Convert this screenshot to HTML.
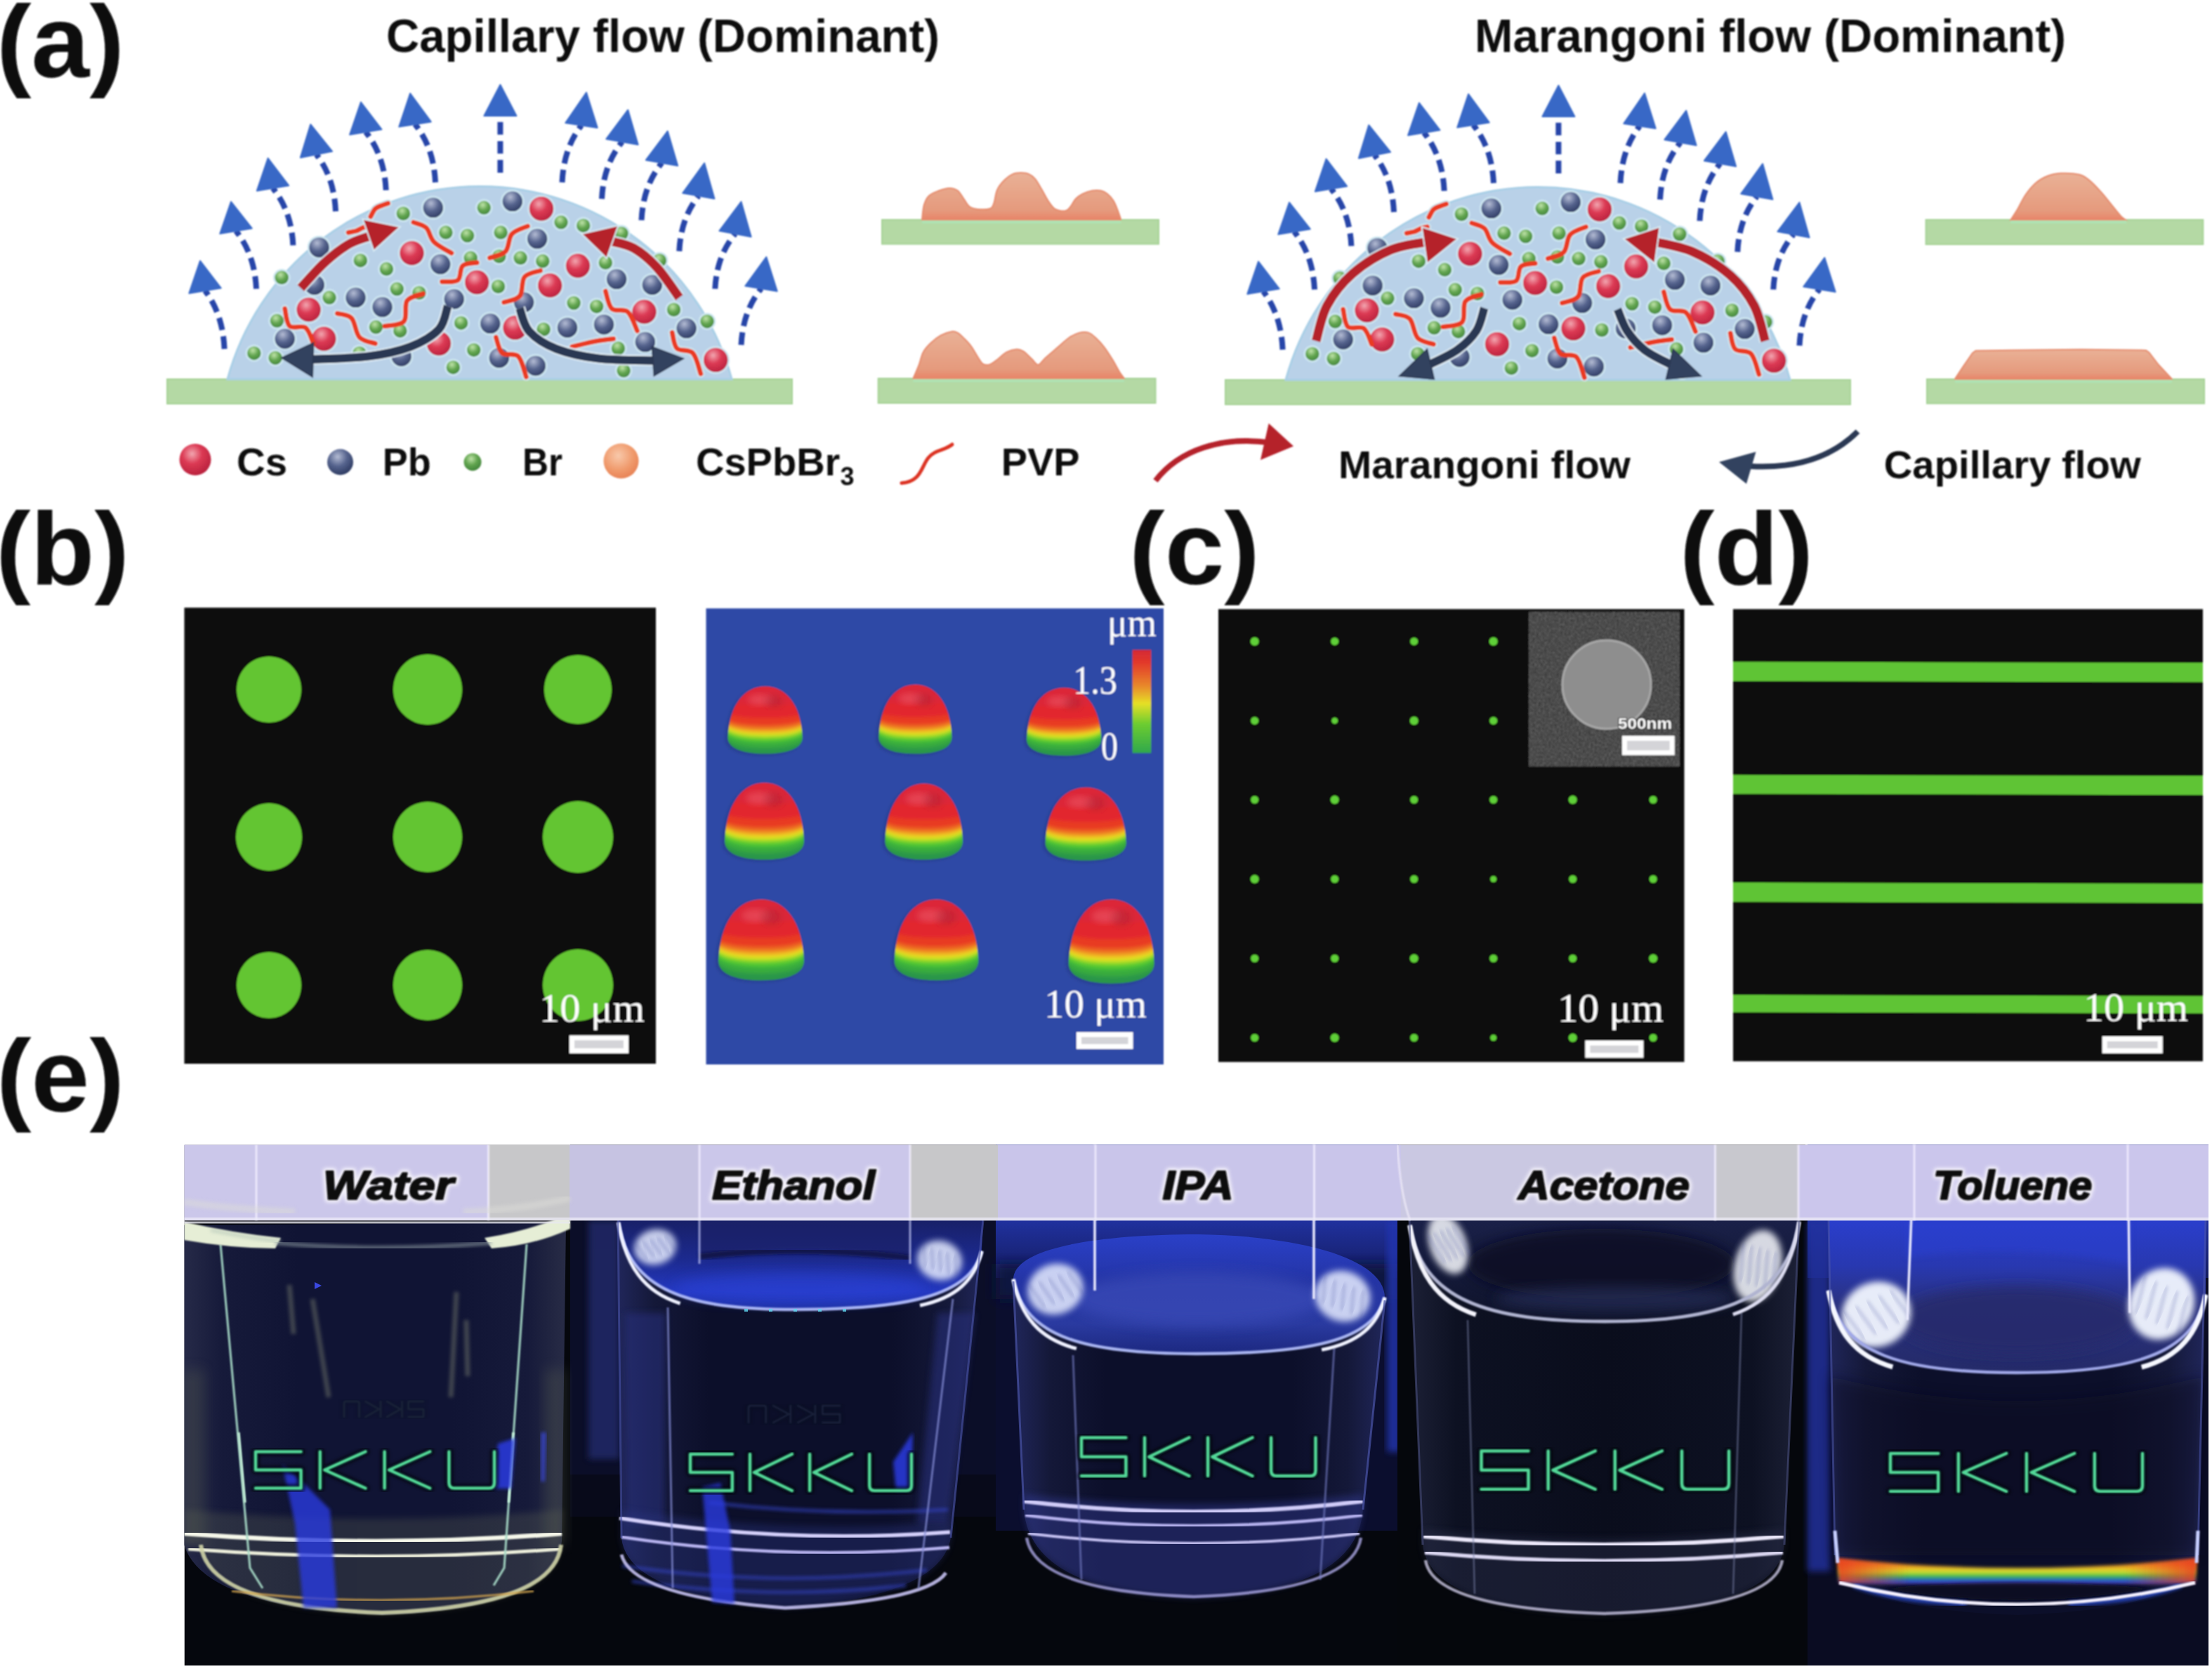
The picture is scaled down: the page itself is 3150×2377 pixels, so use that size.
<!DOCTYPE html>
<html><head><meta charset="utf-8"><title>Figure</title>
<style>html,body{margin:0;padding:0;background:#fff;}body{width:3150px;height:2377px;overflow:hidden;font-family:"Liberation Sans",sans-serif;}svg{display:block}</style>
</head><body>
<svg width="3150" height="2377" viewBox="0 0 3150 2377">
<rect width="3150" height="2377" fill="#fff"/>
<defs>
<radialGradient id="gCs" cx="40%" cy="32%" r="70%"><stop offset="0" stop-color="#f2a6b0"/><stop offset="0.45" stop-color="#dc3a54"/><stop offset="1" stop-color="#b8203c"/></radialGradient>
<radialGradient id="gPb" cx="40%" cy="30%" r="72%"><stop offset="0" stop-color="#b4bcd4"/><stop offset="0.5" stop-color="#56648e"/><stop offset="1" stop-color="#2c3960"/></radialGradient>
<radialGradient id="gBr" cx="42%" cy="32%" r="70%"><stop offset="0" stop-color="#bfe3a8"/><stop offset="0.5" stop-color="#62a550"/><stop offset="1" stop-color="#3f8238"/></radialGradient>
<radialGradient id="gOr" cx="42%" cy="35%" r="70%"><stop offset="0" stop-color="#f8c9ab"/><stop offset="0.6" stop-color="#f09a6c"/><stop offset="1" stop-color="#e67f52"/></radialGradient>
<linearGradient id="gDep" x1="0" y1="0" x2="0" y2="1"><stop offset="0" stop-color="#e9b196"/><stop offset="0.8" stop-color="#e59a7d"/><stop offset="1" stop-color="#e88468"/></linearGradient>
<linearGradient id="gDome" x1="0" y1="0" x2="0" y2="1"><stop offset="0" stop-color="#d8283c"/><stop offset="0.18" stop-color="#e62430"/><stop offset="0.45" stop-color="#ea3a22"/><stop offset="0.56" stop-color="#ee8a22"/><stop offset="0.63" stop-color="#e8e024"/><stop offset="0.71" stop-color="#78d82c"/><stop offset="0.85" stop-color="#3fb83a"/><stop offset="1" stop-color="#2f9a48"/></linearGradient>
<linearGradient id="gBar" x1="0" y1="0" x2="0" y2="1"><stop offset="0" stop-color="#d42a36"/><stop offset="0.12" stop-color="#e2382a"/><stop offset="0.35" stop-color="#e8882a"/><stop offset="0.52" stop-color="#e6e028"/><stop offset="0.72" stop-color="#6ccc30"/><stop offset="1" stop-color="#30a84c"/></linearGradient>
<filter id="bt" x="-5%" y="-10%" width="110%" height="120%"><feGaussianBlur stdDeviation="0.8"/></filter>
<filter id="b1" x="-5%" y="-5%" width="110%" height="110%"><feGaussianBlur stdDeviation="1.0"/></filter>
<filter id="b2" x="-10%" y="-10%" width="120%" height="120%"><feGaussianBlur stdDeviation="2.5"/></filter>
<filter id="b4" x="-20%" y="-20%" width="140%" height="140%"><feGaussianBlur stdDeviation="5"/></filter>
<filter id="b8" x="-30%" y="-30%" width="160%" height="160%"><feGaussianBlur stdDeviation="9"/></filter>
<filter id="b16" x="-40%" y="-40%" width="180%" height="180%"><feGaussianBlur stdDeviation="18"/></filter>
<filter id="b30" x="-50%" y="-50%" width="200%" height="200%"><feGaussianBlur stdDeviation="32"/></filter>
<filter id="noise" x="0" y="0" width="100%" height="100%"><feTurbulence type="fractalNoise" baseFrequency="0.35" numOctaves="2" seed="3"/><feColorMatrix type="matrix" values="0 0 0 0 0.5  0 0 0 0 0.5  0 0 0 0 0.5  0.9 0 0 0 -0.15"/></filter>
</defs>
<text x="-5.0" y="110.0" textLength="182.0" lengthAdjust="spacingAndGlyphs" style="font-family:'Liberation Sans',sans-serif;font-weight:bold;font-size:147px;fill:#0a0a0a" filter="url(#bt)">(a)</text>
<text x="-6.0" y="832.0" textLength="190.0" lengthAdjust="spacingAndGlyphs" style="font-family:'Liberation Sans',sans-serif;font-weight:bold;font-size:147px;fill:#0a0a0a" filter="url(#bt)">(b)</text>
<text x="1608.0" y="832.0" textLength="186.0" lengthAdjust="spacingAndGlyphs" style="font-family:'Liberation Sans',sans-serif;font-weight:bold;font-size:147px;fill:#0a0a0a" filter="url(#bt)">(c)</text>
<text x="2392.0" y="832.0" textLength="190.0" lengthAdjust="spacingAndGlyphs" style="font-family:'Liberation Sans',sans-serif;font-weight:bold;font-size:147px;fill:#0a0a0a" filter="url(#bt)">(d)</text>
<text x="-5.0" y="1583.0" textLength="182.0" lengthAdjust="spacingAndGlyphs" style="font-family:'Liberation Sans',sans-serif;font-weight:bold;font-size:147px;fill:#0a0a0a" filter="url(#bt)">(e)</text>
<text x="550.0" y="74.0" textLength="788.0" lengthAdjust="spacingAndGlyphs" style="font-family:'Liberation Sans',sans-serif;font-weight:bold;fill:#111;font-size:66px;" filter="url(#bt)">Capillary flow (Dominant)</text>
<text x="2100.0" y="74.0" textLength="842.0" lengthAdjust="spacingAndGlyphs" style="font-family:'Liberation Sans',sans-serif;font-weight:bold;fill:#111;font-size:66px;" filter="url(#bt)">Marangoni flow (Dominant)</text>
<g filter="url(#b1)">
<g transform="translate(0.0,0.0)">
<rect x="238" y="540" width="890" height="35" fill="#b4d9a4" stroke="#a6d296" stroke-width="2"/>
<path d="M324,540 A372,372 0 0 1 1042,540 Z" fill="#b9d1e8" stroke="#a9cfe6" stroke-width="3"/>
<path d="M319.6,497.0 Q317.4,447.2 292.0,414.0" fill="none" stroke="#2545a8" stroke-width="8" stroke-dasharray="18 9"/>
<path d="M285.0,371.5 L314.7,410.3 L269.3,417.7 Z" fill="#3968c6" stroke="#3968c6" stroke-width="2" stroke-linejoin="round"/>
<path d="M365.0,411.4 Q362.7,362.0 336.0,329.0" fill="none" stroke="#2545a8" stroke-width="8" stroke-dasharray="18 9"/>
<path d="M329.0,287.4 L358.7,325.2 L313.3,332.8 Z" fill="#3968c6" stroke="#3968c6" stroke-width="2" stroke-linejoin="round"/>
<path d="M417.4,349.4 Q415.1,300.6 388.5,268.0" fill="none" stroke="#2545a8" stroke-width="8" stroke-dasharray="18 9"/>
<path d="M381.6,225.4 L411.2,264.3 L365.8,271.7 Z" fill="#3968c6" stroke="#3968c6" stroke-width="2" stroke-linejoin="round"/>
<path d="M478.0,301.0 Q475.8,252.4 450.5,220.0" fill="none" stroke="#2545a8" stroke-width="8" stroke-dasharray="18 9"/>
<path d="M442.2,177.2 L473.1,215.6 L427.9,224.4 Z" fill="#3968c6" stroke="#3968c6" stroke-width="2" stroke-linejoin="round"/>
<path d="M549.7,270.9 Q547.4,221.2 520.8,188.0" fill="none" stroke="#2545a8" stroke-width="8" stroke-dasharray="18 9"/>
<path d="M513.9,145.5 L543.5,184.3 L498.1,191.7 Z" fill="#3968c6" stroke="#3968c6" stroke-width="2" stroke-linejoin="round"/>
<path d="M620.0,259.8 Q617.7,210.1 591.0,177.0" fill="none" stroke="#2545a8" stroke-width="8" stroke-dasharray="18 9"/>
<path d="M584.1,133.0 L613.7,173.4 L568.3,180.6 Z" fill="#3968c6" stroke="#3968c6" stroke-width="2" stroke-linejoin="round"/>
<path d="M712.4,246.0 Q712.4,197.4 712.4,165.0" fill="none" stroke="#2545a8" stroke-width="8" stroke-dasharray="18 9"/>
<path d="M712.4,120.7 L735.4,165.0 L689.4,165.0 Z" fill="#3968c6" stroke="#3968c6" stroke-width="2" stroke-linejoin="round"/>
<path d="M800.5,259.8 Q802.7,211.0 828.0,178.5" fill="none" stroke="#2545a8" stroke-width="8" stroke-dasharray="18 9"/>
<path d="M835.0,131.7 L850.7,181.9 L805.3,175.1 Z" fill="#3968c6" stroke="#3968c6" stroke-width="2" stroke-linejoin="round"/>
<path d="M857.0,283.3 Q859.3,234.5 886.0,202.0" fill="none" stroke="#2545a8" stroke-width="8" stroke-dasharray="18 9"/>
<path d="M894.2,156.5 L908.6,206.1 L863.4,197.9 Z" fill="#3968c6" stroke="#3968c6" stroke-width="2" stroke-linejoin="round"/>
<path d="M913.5,313.6 Q915.8,264.6 942.5,232.0" fill="none" stroke="#2545a8" stroke-width="8" stroke-dasharray="18 9"/>
<path d="M950.7,186.8 L965.1,236.1 L919.9,227.9 Z" fill="#3968c6" stroke="#3968c6" stroke-width="2" stroke-linejoin="round"/>
<path d="M967.3,357.7 Q969.5,310.5 994.8,279.0" fill="none" stroke="#2545a8" stroke-width="8" stroke-dasharray="18 9"/>
<path d="M1003.1,232.3 L1017.4,283.0 L972.2,275.0 Z" fill="#3968c6" stroke="#3968c6" stroke-width="2" stroke-linejoin="round"/>
<path d="M1018.3,411.4 Q1020.6,364.4 1047.0,333.0" fill="none" stroke="#2545a8" stroke-width="8" stroke-dasharray="18 9"/>
<path d="M1055.5,287.4 L1069.6,337.2 L1024.4,328.8 Z" fill="#3968c6" stroke="#3968c6" stroke-width="2" stroke-linejoin="round"/>
<path d="M1055.5,491.3 Q1057.8,443.1 1084.0,411.0" fill="none" stroke="#2545a8" stroke-width="8" stroke-dasharray="18 9"/>
<path d="M1091.3,366.0 L1106.7,414.7 L1061.3,407.3 Z" fill="#3968c6" stroke="#3968c6" stroke-width="2" stroke-linejoin="round"/>
<path d="M527.8,308.5 C528.9,306.6 531.9,299.8 534.5,297.2 C537.2,294.6 540.6,294.0 543.6,292.7 C546.6,291.4 551.1,290.0 552.6,289.5" fill="none" stroke="#cfeaf2" stroke-width="11" stroke-linecap="round"/>
<path d="M588.8,316.6 C591.8,317.9 602.0,319.7 606.9,324.3 C611.8,329.0 612.1,338.6 618.2,344.7 C624.2,350.7 638.9,357.9 643.0,360.5" fill="none" stroke="#cfeaf2" stroke-width="11" stroke-linecap="round"/>
<path d="M697.3,367.3 C701.1,365.8 714.6,363.9 719.9,358.2 C725.2,352.6 723.7,339.4 728.9,333.4 C734.2,327.3 747.8,323.9 751.5,322.1" fill="none" stroke="#cfeaf2" stroke-width="11" stroke-linecap="round"/>
<path d="M629.5,401.2 C633.2,400.8 647.2,402.7 652.1,398.9 C657.0,395.1 654.3,382.7 658.9,378.6 C663.4,374.4 675.8,374.8 679.2,374.1" fill="none" stroke="#cfeaf2" stroke-width="11" stroke-linecap="round"/>
<path d="M717.6,430.6 C721.4,429.1 735.3,427.5 740.2,421.5 C745.1,415.5 742.1,400.4 747.0,394.4 C751.9,388.4 765.9,386.9 769.6,385.4" fill="none" stroke="#cfeaf2" stroke-width="11" stroke-linecap="round"/>
<path d="M548.1,464.5 C552.6,463.3 570.0,463.7 575.2,457.7 C580.5,451.7 575.2,434.9 579.7,428.3 C584.3,421.7 598.6,420.0 602.4,418.4" fill="none" stroke="#cfeaf2" stroke-width="11" stroke-linecap="round"/>
<path d="M405.7,439.6 C406.8,443.7 407.6,459.9 412.5,464.5 C417.4,469.0 429.4,462.6 435.1,466.7 C440.7,470.9 444.5,485.6 446.4,489.3" fill="none" stroke="#cfeaf2" stroke-width="11" stroke-linecap="round"/>
<path d="M480.3,446.4 C483.7,447.5 495.4,447.5 500.6,453.2 C505.9,458.8 506.3,474.3 511.9,480.3 C517.6,486.3 530.8,487.8 534.5,489.3" fill="none" stroke="#cfeaf2" stroke-width="11" stroke-linecap="round"/>
<path d="M706.3,480.3 C707.8,484.1 710.1,498.4 715.4,502.9 C720.6,507.4 732.3,501.8 738.0,507.4 C743.6,513.1 747.4,531.9 749.3,536.8" fill="none" stroke="#cfeaf2" stroke-width="11" stroke-linecap="round"/>
<path d="M862.3,414.7 C863.8,418.9 866.1,434.7 871.3,439.6 C876.6,444.5 887.9,438.8 893.9,444.1 C900.0,449.4 905.2,466.7 907.5,471.2" fill="none" stroke="#cfeaf2" stroke-width="11" stroke-linecap="round"/>
<path d="M814.8,493.9 C817.8,493.1 826.1,490.8 832.9,489.3 C839.7,487.8 848.7,485.9 855.5,484.8 C862.3,483.7 870.6,482.9 873.6,482.5" fill="none" stroke="#cfeaf2" stroke-width="11" stroke-linecap="round"/>
<path d="M957.2,473.5 C958.4,477.3 959.1,491.2 964.0,496.1 C968.9,501.0 981.0,496.9 986.6,502.9 C992.3,508.9 996.0,527.4 997.9,532.3" fill="none" stroke="#cfeaf2" stroke-width="11" stroke-linecap="round"/>
<path d="M496.1,331.1 C498.0,330.7 504.0,330.0 507.4,328.8 C510.8,327.7 513.4,325.5 516.5,324.3 C519.5,323.2 524.0,322.4 525.5,322.1" fill="none" stroke="#cfeaf2" stroke-width="11" stroke-linecap="round"/>
<circle cx="574.3" cy="304.0" r="11.0" fill="url(#gBr)" stroke="#cfe8f2" stroke-width="2.5"/>
<circle cx="689.2" cy="295.8" r="11.0" fill="url(#gBr)" stroke="#cfe8f2" stroke-width="2.5"/>
<circle cx="634.9" cy="331.1" r="11.0" fill="url(#gBr)" stroke="#cfe8f2" stroke-width="2.5"/>
<circle cx="665.6" cy="335.6" r="11.0" fill="url(#gBr)" stroke="#cfe8f2" stroke-width="2.5"/>
<circle cx="713.1" cy="331.1" r="11.0" fill="url(#gBr)" stroke="#cfe8f2" stroke-width="2.5"/>
<circle cx="799.0" cy="316.6" r="11.0" fill="url(#gBr)" stroke="#cfe8f2" stroke-width="2.5"/>
<circle cx="830.7" cy="321.2" r="11.0" fill="url(#gBr)" stroke="#cfe8f2" stroke-width="2.5"/>
<circle cx="884.9" cy="332.5" r="11.0" fill="url(#gBr)" stroke="#cfe8f2" stroke-width="2.5"/>
<circle cx="513.3" cy="370.9" r="11.0" fill="url(#gBr)" stroke="#cfe8f2" stroke-width="2.5"/>
<circle cx="550.4" cy="383.1" r="11.0" fill="url(#gBr)" stroke="#cfe8f2" stroke-width="2.5"/>
<circle cx="670.2" cy="367.3" r="11.0" fill="url(#gBr)" stroke="#cfe8f2" stroke-width="2.5"/>
<circle cx="710.8" cy="365.0" r="11.0" fill="url(#gBr)" stroke="#cfe8f2" stroke-width="2.5"/>
<circle cx="741.1" cy="367.3" r="11.0" fill="url(#gBr)" stroke="#cfe8f2" stroke-width="2.5"/>
<circle cx="772.8" cy="371.8" r="11.0" fill="url(#gBr)" stroke="#cfe8f2" stroke-width="2.5"/>
<circle cx="862.3" cy="374.1" r="11.0" fill="url(#gBr)" stroke="#cfe8f2" stroke-width="2.5"/>
<circle cx="939.2" cy="370.9" r="11.0" fill="url(#gBr)" stroke="#cfe8f2" stroke-width="2.5"/>
<circle cx="401.2" cy="395.3" r="11.0" fill="url(#gBr)" stroke="#cfe8f2" stroke-width="2.5"/>
<circle cx="565.3" cy="411.6" r="11.0" fill="url(#gBr)" stroke="#cfe8f2" stroke-width="2.5"/>
<circle cx="596.9" cy="417.0" r="11.0" fill="url(#gBr)" stroke="#cfe8f2" stroke-width="2.5"/>
<circle cx="469.0" cy="423.8" r="11.0" fill="url(#gBr)" stroke="#cfe8f2" stroke-width="2.5"/>
<circle cx="709.5" cy="408.0" r="11.0" fill="url(#gBr)" stroke="#cfe8f2" stroke-width="2.5"/>
<circle cx="817.1" cy="431.5" r="11.0" fill="url(#gBr)" stroke="#cfe8f2" stroke-width="2.5"/>
<circle cx="849.6" cy="436.4" r="11.0" fill="url(#gBr)" stroke="#cfe8f2" stroke-width="2.5"/>
<circle cx="959.5" cy="441.0" r="11.0" fill="url(#gBr)" stroke="#cfe8f2" stroke-width="2.5"/>
<circle cx="394.4" cy="456.8" r="11.0" fill="url(#gBr)" stroke="#cfe8f2" stroke-width="2.5"/>
<circle cx="535.4" cy="465.8" r="11.0" fill="url(#gBr)" stroke="#cfe8f2" stroke-width="2.5"/>
<circle cx="569.8" cy="471.2" r="11.0" fill="url(#gBr)" stroke="#cfe8f2" stroke-width="2.5"/>
<circle cx="656.6" cy="459.9" r="11.0" fill="url(#gBr)" stroke="#cfe8f2" stroke-width="2.5"/>
<circle cx="1007.0" cy="457.7" r="11.0" fill="url(#gBr)" stroke="#cfe8f2" stroke-width="2.5"/>
<circle cx="361.8" cy="502.9" r="11.0" fill="url(#gBr)" stroke="#cfe8f2" stroke-width="2.5"/>
<circle cx="392.1" cy="509.7" r="11.0" fill="url(#gBr)" stroke="#cfe8f2" stroke-width="2.5"/>
<circle cx="674.7" cy="498.4" r="11.0" fill="url(#gBr)" stroke="#cfe8f2" stroke-width="2.5"/>
<circle cx="645.3" cy="523.2" r="11.0" fill="url(#gBr)" stroke="#cfe8f2" stroke-width="2.5"/>
<circle cx="880.4" cy="496.1" r="11.0" fill="url(#gBr)" stroke="#cfe8f2" stroke-width="2.5"/>
<circle cx="888.1" cy="527.8" r="11.0" fill="url(#gBr)" stroke="#cfe8f2" stroke-width="2.5"/>
<circle cx="511.9" cy="502.9" r="11.0" fill="url(#gBr)" stroke="#cfe8f2" stroke-width="2.5"/>
<circle cx="774.1" cy="469.0" r="11.0" fill="url(#gBr)" stroke="#cfe8f2" stroke-width="2.5"/>
<circle cx="616.8" cy="295.8" r="15.5" fill="url(#gPb)" stroke="#cfe8f2" stroke-width="2.5"/>
<circle cx="729.8" cy="286.8" r="15.5" fill="url(#gPb)" stroke="#cfe8f2" stroke-width="2.5"/>
<circle cx="765.1" cy="340.1" r="15.5" fill="url(#gPb)" stroke="#cfe8f2" stroke-width="2.5"/>
<circle cx="454.5" cy="352.4" r="15.5" fill="url(#gPb)" stroke="#cfe8f2" stroke-width="2.5"/>
<circle cx="627.2" cy="376.3" r="15.5" fill="url(#gPb)" stroke="#cfe8f2" stroke-width="2.5"/>
<circle cx="447.7" cy="405.7" r="15.5" fill="url(#gPb)" stroke="#cfe8f2" stroke-width="2.5"/>
<circle cx="506.5" cy="423.8" r="15.5" fill="url(#gPb)" stroke="#cfe8f2" stroke-width="2.5"/>
<circle cx="544.5" cy="437.3" r="15.5" fill="url(#gPb)" stroke="#cfe8f2" stroke-width="2.5"/>
<circle cx="646.7" cy="426.0" r="15.5" fill="url(#gPb)" stroke="#cfe8f2" stroke-width="2.5"/>
<circle cx="746.1" cy="430.6" r="15.5" fill="url(#gPb)" stroke="#cfe8f2" stroke-width="2.5"/>
<circle cx="878.1" cy="397.6" r="15.5" fill="url(#gPb)" stroke="#cfe8f2" stroke-width="2.5"/>
<circle cx="928.8" cy="405.7" r="15.5" fill="url(#gPb)" stroke="#cfe8f2" stroke-width="2.5"/>
<circle cx="698.2" cy="460.8" r="15.5" fill="url(#gPb)" stroke="#cfe8f2" stroke-width="2.5"/>
<circle cx="808.0" cy="466.7" r="15.5" fill="url(#gPb)" stroke="#cfe8f2" stroke-width="2.5"/>
<circle cx="860.0" cy="462.2" r="15.5" fill="url(#gPb)" stroke="#cfe8f2" stroke-width="2.5"/>
<circle cx="405.7" cy="482.5" r="15.5" fill="url(#gPb)" stroke="#cfe8f2" stroke-width="2.5"/>
<circle cx="571.6" cy="507.4" r="15.5" fill="url(#gPb)" stroke="#cfe8f2" stroke-width="2.5"/>
<circle cx="710.8" cy="509.7" r="15.5" fill="url(#gPb)" stroke="#cfe8f2" stroke-width="2.5"/>
<circle cx="762.8" cy="521.0" r="15.5" fill="url(#gPb)" stroke="#cfe8f2" stroke-width="2.5"/>
<circle cx="918.8" cy="487.1" r="15.5" fill="url(#gPb)" stroke="#cfe8f2" stroke-width="2.5"/>
<circle cx="977.6" cy="467.6" r="15.5" fill="url(#gPb)" stroke="#cfe8f2" stroke-width="2.5"/>
<circle cx="771.0" cy="297.2" r="18.5" fill="url(#gCs)" stroke="#cfe8f2" stroke-width="2.5"/>
<circle cx="586.5" cy="360.5" r="18.5" fill="url(#gCs)" stroke="#cfe8f2" stroke-width="2.5"/>
<circle cx="679.2" cy="402.1" r="18.5" fill="url(#gCs)" stroke="#cfe8f2" stroke-width="2.5"/>
<circle cx="823.0" cy="378.6" r="18.5" fill="url(#gCs)" stroke="#cfe8f2" stroke-width="2.5"/>
<circle cx="783.2" cy="406.6" r="18.5" fill="url(#gCs)" stroke="#cfe8f2" stroke-width="2.5"/>
<circle cx="439.6" cy="441.0" r="18.5" fill="url(#gCs)" stroke="#cfe8f2" stroke-width="2.5"/>
<circle cx="461.3" cy="482.5" r="18.5" fill="url(#gCs)" stroke="#cfe8f2" stroke-width="2.5"/>
<circle cx="625.0" cy="489.3" r="18.5" fill="url(#gCs)" stroke="#cfe8f2" stroke-width="2.5"/>
<circle cx="733.5" cy="466.7" r="18.5" fill="url(#gCs)" stroke="#cfe8f2" stroke-width="2.5"/>
<circle cx="917.5" cy="444.1" r="18.5" fill="url(#gCs)" stroke="#cfe8f2" stroke-width="2.5"/>
<circle cx="1019.2" cy="512.8" r="18.5" fill="url(#gCs)" stroke="#cfe8f2" stroke-width="2.5"/>
<path d="M527.8,308.5 C528.9,306.6 531.9,299.8 534.5,297.2 C537.2,294.6 540.6,294.0 543.6,292.7 C546.6,291.4 551.1,290.0 552.6,289.5" fill="none" stroke="#ea3a20" stroke-width="7" stroke-linecap="round"/>
<path d="M588.8,316.6 C591.8,317.9 602.0,319.7 606.9,324.3 C611.8,329.0 612.1,338.6 618.2,344.7 C624.2,350.7 638.9,357.9 643.0,360.5" fill="none" stroke="#ea3a20" stroke-width="7" stroke-linecap="round"/>
<path d="M697.3,367.3 C701.1,365.8 714.6,363.9 719.9,358.2 C725.2,352.6 723.7,339.4 728.9,333.4 C734.2,327.3 747.8,323.9 751.5,322.1" fill="none" stroke="#ea3a20" stroke-width="7" stroke-linecap="round"/>
<path d="M629.5,401.2 C633.2,400.8 647.2,402.7 652.1,398.9 C657.0,395.1 654.3,382.7 658.9,378.6 C663.4,374.4 675.8,374.8 679.2,374.1" fill="none" stroke="#ea3a20" stroke-width="7" stroke-linecap="round"/>
<path d="M717.6,430.6 C721.4,429.1 735.3,427.5 740.2,421.5 C745.1,415.5 742.1,400.4 747.0,394.4 C751.9,388.4 765.9,386.9 769.6,385.4" fill="none" stroke="#ea3a20" stroke-width="7" stroke-linecap="round"/>
<path d="M548.1,464.5 C552.6,463.3 570.0,463.7 575.2,457.7 C580.5,451.7 575.2,434.9 579.7,428.3 C584.3,421.7 598.6,420.0 602.4,418.4" fill="none" stroke="#ea3a20" stroke-width="7" stroke-linecap="round"/>
<path d="M405.7,439.6 C406.8,443.7 407.6,459.9 412.5,464.5 C417.4,469.0 429.4,462.6 435.1,466.7 C440.7,470.9 444.5,485.6 446.4,489.3" fill="none" stroke="#ea3a20" stroke-width="7" stroke-linecap="round"/>
<path d="M480.3,446.4 C483.7,447.5 495.4,447.5 500.6,453.2 C505.9,458.8 506.3,474.3 511.9,480.3 C517.6,486.3 530.8,487.8 534.5,489.3" fill="none" stroke="#ea3a20" stroke-width="7" stroke-linecap="round"/>
<path d="M706.3,480.3 C707.8,484.1 710.1,498.4 715.4,502.9 C720.6,507.4 732.3,501.8 738.0,507.4 C743.6,513.1 747.4,531.9 749.3,536.8" fill="none" stroke="#ea3a20" stroke-width="7" stroke-linecap="round"/>
<path d="M862.3,414.7 C863.8,418.9 866.1,434.7 871.3,439.6 C876.6,444.5 887.9,438.8 893.9,444.1 C900.0,449.4 905.2,466.7 907.5,471.2" fill="none" stroke="#ea3a20" stroke-width="7" stroke-linecap="round"/>
<path d="M814.8,493.9 C817.8,493.1 826.1,490.8 832.9,489.3 C839.7,487.8 848.7,485.9 855.5,484.8 C862.3,483.7 870.6,482.9 873.6,482.5" fill="none" stroke="#ea3a20" stroke-width="7" stroke-linecap="round"/>
<path d="M957.2,473.5 C958.4,477.3 959.1,491.2 964.0,496.1 C968.9,501.0 981.0,496.9 986.6,502.9 C992.3,508.9 996.0,527.4 997.9,532.3" fill="none" stroke="#ea3a20" stroke-width="7" stroke-linecap="round"/>
<path d="M496.1,331.1 C498.0,330.7 504.0,330.0 507.4,328.8 C510.8,327.7 513.4,325.5 516.5,324.3 C519.5,323.2 524.0,322.4 525.5,322.1" fill="none" stroke="#ea3a20" stroke-width="7" stroke-linecap="round"/>
<path d="M428.3,410.2 C434.0,404.2 450.5,384.6 462.2,374.1 C473.9,363.5 485.9,353.7 498.4,346.9 C510.8,340.1 530.4,335.6 536.8,333.4" fill="none" stroke="#d8ecf4" stroke-width="17"/>
<path d="M428.3,410.2 C434.0,404.2 450.5,384.6 462.2,374.1 C473.9,363.5 485.9,353.7 498.4,346.9 C510.8,340.1 530.4,335.6 536.8,333.4" fill="none" stroke="#b5202c" stroke-width="13"/>
<path d="M516.5,312.1 L569.8,323.0 L532.3,357.3 Z" fill="#b5202c" stroke="#d8ecf4" stroke-width="2"/>
<path d="M967.3,423.8 C962.0,416.7 946.4,392.7 935.6,381.0 C924.8,369.3 913.8,359.8 902.5,353.5 C891.2,347.2 873.8,344.8 868.0,343.0" fill="none" stroke="#d8ecf4" stroke-width="17"/>
<path d="M967.3,423.8 C962.0,416.7 946.4,392.7 935.6,381.0 C924.8,369.3 913.8,359.8 902.5,353.5 C891.2,347.2 873.8,344.8 868.0,343.0" fill="none" stroke="#b5202c" stroke-width="13"/>
<path d="M828,333 L880.5,321 L864,368 Z" fill="#b5202c" stroke="#d8ecf4" stroke-width="2"/>
<path d="M740.0,439.0 C742.3,444.5 745.0,462.4 753.7,472.0 C762.4,481.6 775.8,490.4 792.3,496.8 C808.8,503.2 829.7,507.8 853.0,510.6 C876.3,513.4 918.8,512.9 932.0,513.4" fill="none" stroke="#e4f0f8" stroke-width="16"/>
<path d="M740.0,439.0 C742.3,444.5 745.0,462.4 753.7,472.0 C762.4,481.6 775.8,490.4 792.3,496.8 C808.8,503.2 829.7,507.8 853.0,510.6 C876.3,513.4 918.8,512.9 932.0,513.4" fill="none" stroke="#2b3853" stroke-width="12"/>
<path d="M973,510.6 L928.7,494 L931.5,535 Z" fill="#33425f" stroke="#2b3853" stroke-width="2"/>
<path d="M637.6,436.0 C635.5,441.5 633.8,459.3 625.0,469.0 C616.1,478.6 600.8,487.4 584.3,493.9 C567.7,500.3 548.9,504.4 525.5,507.4 C502.1,510.4 457.7,511.2 444.1,511.9" fill="none" stroke="#e4f0f8" stroke-width="16"/>
<path d="M637.6,436.0 C635.5,441.5 633.8,459.3 625.0,469.0 C616.1,478.6 600.8,487.4 584.3,493.9 C567.7,500.3 548.9,504.4 525.5,507.4 C502.1,510.4 457.7,511.2 444.1,511.9" fill="none" stroke="#2b3853" stroke-width="12"/>
<path d="M401.2,509.7 L446.4,488.4 L445.0,536.8 Z" fill="#33425f" stroke="#2b3853" stroke-width="2"/>
</g>
<g transform="translate(1507.0,1.0)">
<rect x="238" y="540" width="890" height="35" fill="#b4d9a4" stroke="#a6d296" stroke-width="2"/>
<path d="M324,540 A372,372 0 0 1 1042,540 Z" fill="#b9d1e8" stroke="#a9cfe6" stroke-width="3"/>
<path d="M319.6,497.0 Q317.4,447.2 292.0,414.0" fill="none" stroke="#2545a8" stroke-width="8" stroke-dasharray="18 9"/>
<path d="M285.0,371.5 L314.7,410.3 L269.3,417.7 Z" fill="#3968c6" stroke="#3968c6" stroke-width="2" stroke-linejoin="round"/>
<path d="M365.0,411.4 Q362.7,362.0 336.0,329.0" fill="none" stroke="#2545a8" stroke-width="8" stroke-dasharray="18 9"/>
<path d="M329.0,287.4 L358.7,325.2 L313.3,332.8 Z" fill="#3968c6" stroke="#3968c6" stroke-width="2" stroke-linejoin="round"/>
<path d="M417.4,349.4 Q415.1,300.6 388.5,268.0" fill="none" stroke="#2545a8" stroke-width="8" stroke-dasharray="18 9"/>
<path d="M381.6,225.4 L411.2,264.3 L365.8,271.7 Z" fill="#3968c6" stroke="#3968c6" stroke-width="2" stroke-linejoin="round"/>
<path d="M478.0,301.0 Q475.8,252.4 450.5,220.0" fill="none" stroke="#2545a8" stroke-width="8" stroke-dasharray="18 9"/>
<path d="M442.2,177.2 L473.1,215.6 L427.9,224.4 Z" fill="#3968c6" stroke="#3968c6" stroke-width="2" stroke-linejoin="round"/>
<path d="M549.7,270.9 Q547.4,221.2 520.8,188.0" fill="none" stroke="#2545a8" stroke-width="8" stroke-dasharray="18 9"/>
<path d="M513.9,145.5 L543.5,184.3 L498.1,191.7 Z" fill="#3968c6" stroke="#3968c6" stroke-width="2" stroke-linejoin="round"/>
<path d="M620.0,259.8 Q617.7,210.1 591.0,177.0" fill="none" stroke="#2545a8" stroke-width="8" stroke-dasharray="18 9"/>
<path d="M584.1,133.0 L613.7,173.4 L568.3,180.6 Z" fill="#3968c6" stroke="#3968c6" stroke-width="2" stroke-linejoin="round"/>
<path d="M712.4,246.0 Q712.4,197.4 712.4,165.0" fill="none" stroke="#2545a8" stroke-width="8" stroke-dasharray="18 9"/>
<path d="M712.4,120.7 L735.4,165.0 L689.4,165.0 Z" fill="#3968c6" stroke="#3968c6" stroke-width="2" stroke-linejoin="round"/>
<path d="M800.5,259.8 Q802.7,211.0 828.0,178.5" fill="none" stroke="#2545a8" stroke-width="8" stroke-dasharray="18 9"/>
<path d="M835.0,131.7 L850.7,181.9 L805.3,175.1 Z" fill="#3968c6" stroke="#3968c6" stroke-width="2" stroke-linejoin="round"/>
<path d="M857.0,283.3 Q859.3,234.5 886.0,202.0" fill="none" stroke="#2545a8" stroke-width="8" stroke-dasharray="18 9"/>
<path d="M894.2,156.5 L908.6,206.1 L863.4,197.9 Z" fill="#3968c6" stroke="#3968c6" stroke-width="2" stroke-linejoin="round"/>
<path d="M913.5,313.6 Q915.8,264.6 942.5,232.0" fill="none" stroke="#2545a8" stroke-width="8" stroke-dasharray="18 9"/>
<path d="M950.7,186.8 L965.1,236.1 L919.9,227.9 Z" fill="#3968c6" stroke="#3968c6" stroke-width="2" stroke-linejoin="round"/>
<path d="M967.3,357.7 Q969.5,310.5 994.8,279.0" fill="none" stroke="#2545a8" stroke-width="8" stroke-dasharray="18 9"/>
<path d="M1003.1,232.3 L1017.4,283.0 L972.2,275.0 Z" fill="#3968c6" stroke="#3968c6" stroke-width="2" stroke-linejoin="round"/>
<path d="M1018.3,411.4 Q1020.6,364.4 1047.0,333.0" fill="none" stroke="#2545a8" stroke-width="8" stroke-dasharray="18 9"/>
<path d="M1055.5,287.4 L1069.6,337.2 L1024.4,328.8 Z" fill="#3968c6" stroke="#3968c6" stroke-width="2" stroke-linejoin="round"/>
<path d="M1055.5,491.3 Q1057.8,443.1 1084.0,411.0" fill="none" stroke="#2545a8" stroke-width="8" stroke-dasharray="18 9"/>
<path d="M1091.3,366.0 L1106.7,414.7 L1061.3,407.3 Z" fill="#3968c6" stroke="#3968c6" stroke-width="2" stroke-linejoin="round"/>
<path d="M527.8,308.5 C528.9,306.6 531.9,299.8 534.5,297.2 C537.2,294.6 540.6,294.0 543.6,292.7 C546.6,291.4 551.1,290.0 552.6,289.5" fill="none" stroke="#cfeaf2" stroke-width="11" stroke-linecap="round"/>
<path d="M588.8,316.6 C591.8,317.9 602.0,319.7 606.9,324.3 C611.8,329.0 612.1,338.6 618.2,344.7 C624.2,350.7 638.9,357.9 643.0,360.5" fill="none" stroke="#cfeaf2" stroke-width="11" stroke-linecap="round"/>
<path d="M697.3,367.3 C701.1,365.8 714.6,363.9 719.9,358.2 C725.2,352.6 723.7,339.4 728.9,333.4 C734.2,327.3 747.8,323.9 751.5,322.1" fill="none" stroke="#cfeaf2" stroke-width="11" stroke-linecap="round"/>
<path d="M629.5,401.2 C633.2,400.8 647.2,402.7 652.1,398.9 C657.0,395.1 654.3,382.7 658.9,378.6 C663.4,374.4 675.8,374.8 679.2,374.1" fill="none" stroke="#cfeaf2" stroke-width="11" stroke-linecap="round"/>
<path d="M717.6,430.6 C721.4,429.1 735.3,427.5 740.2,421.5 C745.1,415.5 742.1,400.4 747.0,394.4 C751.9,388.4 765.9,386.9 769.6,385.4" fill="none" stroke="#cfeaf2" stroke-width="11" stroke-linecap="round"/>
<path d="M548.1,464.5 C552.6,463.3 570.0,463.7 575.2,457.7 C580.5,451.7 575.2,434.9 579.7,428.3 C584.3,421.7 598.6,420.0 602.4,418.4" fill="none" stroke="#cfeaf2" stroke-width="11" stroke-linecap="round"/>
<path d="M405.7,439.6 C406.8,443.7 407.6,459.9 412.5,464.5 C417.4,469.0 429.4,462.6 435.1,466.7 C440.7,470.9 444.5,485.6 446.4,489.3" fill="none" stroke="#cfeaf2" stroke-width="11" stroke-linecap="round"/>
<path d="M480.3,446.4 C483.7,447.5 495.4,447.5 500.6,453.2 C505.9,458.8 506.3,474.3 511.9,480.3 C517.6,486.3 530.8,487.8 534.5,489.3" fill="none" stroke="#cfeaf2" stroke-width="11" stroke-linecap="round"/>
<path d="M706.3,480.3 C707.8,484.1 710.1,498.4 715.4,502.9 C720.6,507.4 732.3,501.8 738.0,507.4 C743.6,513.1 747.4,531.9 749.3,536.8" fill="none" stroke="#cfeaf2" stroke-width="11" stroke-linecap="round"/>
<path d="M862.3,414.7 C863.8,418.9 866.1,434.7 871.3,439.6 C876.6,444.5 887.9,438.8 893.9,444.1 C900.0,449.4 905.2,466.7 907.5,471.2" fill="none" stroke="#cfeaf2" stroke-width="11" stroke-linecap="round"/>
<path d="M814.8,493.9 C817.8,493.1 826.1,490.8 832.9,489.3 C839.7,487.8 848.7,485.9 855.5,484.8 C862.3,483.7 870.6,482.9 873.6,482.5" fill="none" stroke="#cfeaf2" stroke-width="11" stroke-linecap="round"/>
<path d="M957.2,473.5 C958.4,477.3 959.1,491.2 964.0,496.1 C968.9,501.0 981.0,496.9 986.6,502.9 C992.3,508.9 996.0,527.4 997.9,532.3" fill="none" stroke="#cfeaf2" stroke-width="11" stroke-linecap="round"/>
<path d="M496.1,331.1 C498.0,330.7 504.0,330.0 507.4,328.8 C510.8,327.7 513.4,325.5 516.5,324.3 C519.5,323.2 524.0,322.4 525.5,322.1" fill="none" stroke="#cfeaf2" stroke-width="11" stroke-linecap="round"/>
<circle cx="574.3" cy="304.0" r="11.0" fill="url(#gBr)" stroke="#cfe8f2" stroke-width="2.5"/>
<circle cx="689.2" cy="295.8" r="11.0" fill="url(#gBr)" stroke="#cfe8f2" stroke-width="2.5"/>
<circle cx="634.9" cy="331.1" r="11.0" fill="url(#gBr)" stroke="#cfe8f2" stroke-width="2.5"/>
<circle cx="665.6" cy="335.6" r="11.0" fill="url(#gBr)" stroke="#cfe8f2" stroke-width="2.5"/>
<circle cx="713.1" cy="331.1" r="11.0" fill="url(#gBr)" stroke="#cfe8f2" stroke-width="2.5"/>
<circle cx="799.0" cy="316.6" r="11.0" fill="url(#gBr)" stroke="#cfe8f2" stroke-width="2.5"/>
<circle cx="830.7" cy="321.2" r="11.0" fill="url(#gBr)" stroke="#cfe8f2" stroke-width="2.5"/>
<circle cx="884.9" cy="332.5" r="11.0" fill="url(#gBr)" stroke="#cfe8f2" stroke-width="2.5"/>
<circle cx="513.3" cy="370.9" r="11.0" fill="url(#gBr)" stroke="#cfe8f2" stroke-width="2.5"/>
<circle cx="550.4" cy="383.1" r="11.0" fill="url(#gBr)" stroke="#cfe8f2" stroke-width="2.5"/>
<circle cx="670.2" cy="367.3" r="11.0" fill="url(#gBr)" stroke="#cfe8f2" stroke-width="2.5"/>
<circle cx="710.8" cy="365.0" r="11.0" fill="url(#gBr)" stroke="#cfe8f2" stroke-width="2.5"/>
<circle cx="741.1" cy="367.3" r="11.0" fill="url(#gBr)" stroke="#cfe8f2" stroke-width="2.5"/>
<circle cx="772.8" cy="371.8" r="11.0" fill="url(#gBr)" stroke="#cfe8f2" stroke-width="2.5"/>
<circle cx="862.3" cy="374.1" r="11.0" fill="url(#gBr)" stroke="#cfe8f2" stroke-width="2.5"/>
<circle cx="939.2" cy="370.9" r="11.0" fill="url(#gBr)" stroke="#cfe8f2" stroke-width="2.5"/>
<circle cx="401.2" cy="395.3" r="11.0" fill="url(#gBr)" stroke="#cfe8f2" stroke-width="2.5"/>
<circle cx="565.3" cy="411.6" r="11.0" fill="url(#gBr)" stroke="#cfe8f2" stroke-width="2.5"/>
<circle cx="596.9" cy="417.0" r="11.0" fill="url(#gBr)" stroke="#cfe8f2" stroke-width="2.5"/>
<circle cx="469.0" cy="423.8" r="11.0" fill="url(#gBr)" stroke="#cfe8f2" stroke-width="2.5"/>
<circle cx="709.5" cy="408.0" r="11.0" fill="url(#gBr)" stroke="#cfe8f2" stroke-width="2.5"/>
<circle cx="817.1" cy="431.5" r="11.0" fill="url(#gBr)" stroke="#cfe8f2" stroke-width="2.5"/>
<circle cx="849.6" cy="436.4" r="11.0" fill="url(#gBr)" stroke="#cfe8f2" stroke-width="2.5"/>
<circle cx="959.5" cy="441.0" r="11.0" fill="url(#gBr)" stroke="#cfe8f2" stroke-width="2.5"/>
<circle cx="394.4" cy="456.8" r="11.0" fill="url(#gBr)" stroke="#cfe8f2" stroke-width="2.5"/>
<circle cx="535.4" cy="465.8" r="11.0" fill="url(#gBr)" stroke="#cfe8f2" stroke-width="2.5"/>
<circle cx="569.8" cy="471.2" r="11.0" fill="url(#gBr)" stroke="#cfe8f2" stroke-width="2.5"/>
<circle cx="656.6" cy="459.9" r="11.0" fill="url(#gBr)" stroke="#cfe8f2" stroke-width="2.5"/>
<circle cx="1007.0" cy="457.7" r="11.0" fill="url(#gBr)" stroke="#cfe8f2" stroke-width="2.5"/>
<circle cx="361.8" cy="502.9" r="11.0" fill="url(#gBr)" stroke="#cfe8f2" stroke-width="2.5"/>
<circle cx="392.1" cy="509.7" r="11.0" fill="url(#gBr)" stroke="#cfe8f2" stroke-width="2.5"/>
<circle cx="674.7" cy="498.4" r="11.0" fill="url(#gBr)" stroke="#cfe8f2" stroke-width="2.5"/>
<circle cx="645.3" cy="523.2" r="11.0" fill="url(#gBr)" stroke="#cfe8f2" stroke-width="2.5"/>
<circle cx="880.4" cy="496.1" r="11.0" fill="url(#gBr)" stroke="#cfe8f2" stroke-width="2.5"/>
<circle cx="888.1" cy="527.8" r="11.0" fill="url(#gBr)" stroke="#cfe8f2" stroke-width="2.5"/>
<circle cx="511.9" cy="502.9" r="11.0" fill="url(#gBr)" stroke="#cfe8f2" stroke-width="2.5"/>
<circle cx="774.1" cy="469.0" r="11.0" fill="url(#gBr)" stroke="#cfe8f2" stroke-width="2.5"/>
<circle cx="616.8" cy="295.8" r="15.5" fill="url(#gPb)" stroke="#cfe8f2" stroke-width="2.5"/>
<circle cx="729.8" cy="286.8" r="15.5" fill="url(#gPb)" stroke="#cfe8f2" stroke-width="2.5"/>
<circle cx="765.1" cy="340.1" r="15.5" fill="url(#gPb)" stroke="#cfe8f2" stroke-width="2.5"/>
<circle cx="454.5" cy="352.4" r="15.5" fill="url(#gPb)" stroke="#cfe8f2" stroke-width="2.5"/>
<circle cx="627.2" cy="376.3" r="15.5" fill="url(#gPb)" stroke="#cfe8f2" stroke-width="2.5"/>
<circle cx="447.7" cy="405.7" r="15.5" fill="url(#gPb)" stroke="#cfe8f2" stroke-width="2.5"/>
<circle cx="506.5" cy="423.8" r="15.5" fill="url(#gPb)" stroke="#cfe8f2" stroke-width="2.5"/>
<circle cx="544.5" cy="437.3" r="15.5" fill="url(#gPb)" stroke="#cfe8f2" stroke-width="2.5"/>
<circle cx="646.7" cy="426.0" r="15.5" fill="url(#gPb)" stroke="#cfe8f2" stroke-width="2.5"/>
<circle cx="746.1" cy="430.6" r="15.5" fill="url(#gPb)" stroke="#cfe8f2" stroke-width="2.5"/>
<circle cx="878.1" cy="397.6" r="15.5" fill="url(#gPb)" stroke="#cfe8f2" stroke-width="2.5"/>
<circle cx="928.8" cy="405.7" r="15.5" fill="url(#gPb)" stroke="#cfe8f2" stroke-width="2.5"/>
<circle cx="698.2" cy="460.8" r="15.5" fill="url(#gPb)" stroke="#cfe8f2" stroke-width="2.5"/>
<circle cx="808.0" cy="466.7" r="15.5" fill="url(#gPb)" stroke="#cfe8f2" stroke-width="2.5"/>
<circle cx="860.0" cy="462.2" r="15.5" fill="url(#gPb)" stroke="#cfe8f2" stroke-width="2.5"/>
<circle cx="405.7" cy="482.5" r="15.5" fill="url(#gPb)" stroke="#cfe8f2" stroke-width="2.5"/>
<circle cx="571.6" cy="507.4" r="15.5" fill="url(#gPb)" stroke="#cfe8f2" stroke-width="2.5"/>
<circle cx="710.8" cy="509.7" r="15.5" fill="url(#gPb)" stroke="#cfe8f2" stroke-width="2.5"/>
<circle cx="762.8" cy="521.0" r="15.5" fill="url(#gPb)" stroke="#cfe8f2" stroke-width="2.5"/>
<circle cx="918.8" cy="487.1" r="15.5" fill="url(#gPb)" stroke="#cfe8f2" stroke-width="2.5"/>
<circle cx="977.6" cy="467.6" r="15.5" fill="url(#gPb)" stroke="#cfe8f2" stroke-width="2.5"/>
<circle cx="771.0" cy="297.2" r="18.5" fill="url(#gCs)" stroke="#cfe8f2" stroke-width="2.5"/>
<circle cx="586.5" cy="360.5" r="18.5" fill="url(#gCs)" stroke="#cfe8f2" stroke-width="2.5"/>
<circle cx="679.2" cy="402.1" r="18.5" fill="url(#gCs)" stroke="#cfe8f2" stroke-width="2.5"/>
<circle cx="823.0" cy="378.6" r="18.5" fill="url(#gCs)" stroke="#cfe8f2" stroke-width="2.5"/>
<circle cx="783.2" cy="406.6" r="18.5" fill="url(#gCs)" stroke="#cfe8f2" stroke-width="2.5"/>
<circle cx="439.6" cy="441.0" r="18.5" fill="url(#gCs)" stroke="#cfe8f2" stroke-width="2.5"/>
<circle cx="461.3" cy="482.5" r="18.5" fill="url(#gCs)" stroke="#cfe8f2" stroke-width="2.5"/>
<circle cx="625.0" cy="489.3" r="18.5" fill="url(#gCs)" stroke="#cfe8f2" stroke-width="2.5"/>
<circle cx="733.5" cy="466.7" r="18.5" fill="url(#gCs)" stroke="#cfe8f2" stroke-width="2.5"/>
<circle cx="917.5" cy="444.1" r="18.5" fill="url(#gCs)" stroke="#cfe8f2" stroke-width="2.5"/>
<circle cx="1019.2" cy="512.8" r="18.5" fill="url(#gCs)" stroke="#cfe8f2" stroke-width="2.5"/>
<path d="M527.8,308.5 C528.9,306.6 531.9,299.8 534.5,297.2 C537.2,294.6 540.6,294.0 543.6,292.7 C546.6,291.4 551.1,290.0 552.6,289.5" fill="none" stroke="#ea3a20" stroke-width="7" stroke-linecap="round"/>
<path d="M588.8,316.6 C591.8,317.9 602.0,319.7 606.9,324.3 C611.8,329.0 612.1,338.6 618.2,344.7 C624.2,350.7 638.9,357.9 643.0,360.5" fill="none" stroke="#ea3a20" stroke-width="7" stroke-linecap="round"/>
<path d="M697.3,367.3 C701.1,365.8 714.6,363.9 719.9,358.2 C725.2,352.6 723.7,339.4 728.9,333.4 C734.2,327.3 747.8,323.9 751.5,322.1" fill="none" stroke="#ea3a20" stroke-width="7" stroke-linecap="round"/>
<path d="M629.5,401.2 C633.2,400.8 647.2,402.7 652.1,398.9 C657.0,395.1 654.3,382.7 658.9,378.6 C663.4,374.4 675.8,374.8 679.2,374.1" fill="none" stroke="#ea3a20" stroke-width="7" stroke-linecap="round"/>
<path d="M717.6,430.6 C721.4,429.1 735.3,427.5 740.2,421.5 C745.1,415.5 742.1,400.4 747.0,394.4 C751.9,388.4 765.9,386.9 769.6,385.4" fill="none" stroke="#ea3a20" stroke-width="7" stroke-linecap="round"/>
<path d="M548.1,464.5 C552.6,463.3 570.0,463.7 575.2,457.7 C580.5,451.7 575.2,434.9 579.7,428.3 C584.3,421.7 598.6,420.0 602.4,418.4" fill="none" stroke="#ea3a20" stroke-width="7" stroke-linecap="round"/>
<path d="M405.7,439.6 C406.8,443.7 407.6,459.9 412.5,464.5 C417.4,469.0 429.4,462.6 435.1,466.7 C440.7,470.9 444.5,485.6 446.4,489.3" fill="none" stroke="#ea3a20" stroke-width="7" stroke-linecap="round"/>
<path d="M480.3,446.4 C483.7,447.5 495.4,447.5 500.6,453.2 C505.9,458.8 506.3,474.3 511.9,480.3 C517.6,486.3 530.8,487.8 534.5,489.3" fill="none" stroke="#ea3a20" stroke-width="7" stroke-linecap="round"/>
<path d="M706.3,480.3 C707.8,484.1 710.1,498.4 715.4,502.9 C720.6,507.4 732.3,501.8 738.0,507.4 C743.6,513.1 747.4,531.9 749.3,536.8" fill="none" stroke="#ea3a20" stroke-width="7" stroke-linecap="round"/>
<path d="M862.3,414.7 C863.8,418.9 866.1,434.7 871.3,439.6 C876.6,444.5 887.9,438.8 893.9,444.1 C900.0,449.4 905.2,466.7 907.5,471.2" fill="none" stroke="#ea3a20" stroke-width="7" stroke-linecap="round"/>
<path d="M814.8,493.9 C817.8,493.1 826.1,490.8 832.9,489.3 C839.7,487.8 848.7,485.9 855.5,484.8 C862.3,483.7 870.6,482.9 873.6,482.5" fill="none" stroke="#ea3a20" stroke-width="7" stroke-linecap="round"/>
<path d="M957.2,473.5 C958.4,477.3 959.1,491.2 964.0,496.1 C968.9,501.0 981.0,496.9 986.6,502.9 C992.3,508.9 996.0,527.4 997.9,532.3" fill="none" stroke="#ea3a20" stroke-width="7" stroke-linecap="round"/>
<path d="M496.1,331.1 C498.0,330.7 504.0,330.0 507.4,328.8 C510.8,327.7 513.4,325.5 516.5,324.3 C519.5,323.2 524.0,322.4 525.5,322.1" fill="none" stroke="#ea3a20" stroke-width="7" stroke-linecap="round"/>
<path d="M367.1,484.7 C369.7,476.3 374.2,450.1 382.9,434.1 C391.5,418.1 404.0,402.1 419.0,388.9 C434.1,375.7 454.8,362.7 473.3,355.0 C491.7,347.3 520.4,344.8 529.8,342.8" fill="none" stroke="#d8ecf4" stroke-width="17"/>
<path d="M367.1,484.7 C369.7,476.3 374.2,450.1 382.9,434.1 C391.5,418.1 404.0,402.1 419.0,388.9 C434.1,375.7 454.8,362.7 473.3,355.0 C491.7,347.3 520.4,344.8 529.8,342.8" fill="none" stroke="#b5202c" stroke-width="13"/>
<path d="M517.6,322.0 L569.1,339.1 L525.3,374.4 Z" fill="#b5202c" stroke="#d8ecf4" stroke-width="2"/>
<path d="M1006.7,484.7 C1004.1,476.3 999.2,449.7 990.9,434.1 C982.6,418.5 971.7,403.9 957.0,391.1 C942.3,378.3 921.2,365.3 902.8,357.2 C884.3,349.2 855.7,345.2 846.3,342.8" fill="none" stroke="#d8ecf4" stroke-width="17"/>
<path d="M1006.7,484.7 C1004.1,476.3 999.2,449.7 990.9,434.1 C982.6,418.5 971.7,403.9 957.0,391.1 C942.3,378.3 921.2,365.3 902.8,357.2 C884.3,349.2 855.7,345.2 846.3,342.8" fill="none" stroke="#b5202c" stroke-width="13"/>
<path d="M856.7,322.0 L804.7,339.1 L849.4,374.4 Z" fill="#b5202c" stroke="#d8ecf4" stroke-width="2"/>
<path d="M606.7,437.7 C604.8,443.1 601.8,460.3 595.4,470.2 C588.9,480.2 579.2,489.5 568.2,497.4 C557.3,505.3 536.2,514.3 529.8,517.7" fill="none" stroke="#e4f0f8" stroke-width="16"/>
<path d="M606.7,437.7 C604.8,443.1 601.8,460.3 595.4,470.2 C588.9,480.2 579.2,489.5 568.2,497.4 C557.3,505.3 536.2,514.3 529.8,517.7" fill="none" stroke="#2b3853" stroke-width="12"/>
<path d="M485.9,534.4 L525.3,496.5 L535.2,539.0 Z" fill="#33425f" stroke="#2b3853" stroke-width="2"/>
<path d="M796.5,439.5 C798.8,444.6 803.7,460.6 810.1,470.2 C816.5,479.9 824.8,489.5 835.0,497.4 C845.1,505.3 865.1,514.3 871.1,517.7" fill="none" stroke="#e4f0f8" stroke-width="16"/>
<path d="M796.5,439.5 C798.8,444.6 803.7,460.6 810.1,470.2 C816.5,479.9 824.8,489.5 835.0,497.4 C845.1,505.3 865.1,514.3 871.1,517.7" fill="none" stroke="#2b3853" stroke-width="12"/>
<path d="M915.0,534.4 L875.6,496.5 L865.7,539.0 Z" fill="#33425f" stroke="#2b3853" stroke-width="2"/>
</g>
<rect x="1256.0" y="313.0" width="394.0" height="34.5" fill="#b4d9a4" stroke="#a6d296" stroke-width="2"/>
<path d="M1313.0,313.0 C1313.5,309.5 1314.2,297.6 1315.9,291.9 C1317.6,286.2 1319.5,282.1 1323.1,278.7 C1326.7,275.3 1332.7,273.3 1337.4,271.5 C1342.2,269.7 1347.4,267.9 1351.8,267.9 C1356.2,267.9 1360.2,268.7 1363.8,271.5 C1367.4,274.3 1370.6,280.9 1373.4,284.7 C1376.2,288.5 1377.4,292.1 1380.6,294.3 C1383.8,296.5 1387.8,297.4 1392.6,297.9 C1397.4,298.4 1405.6,298.6 1409.4,297.2 C1413.2,295.8 1413.6,294.0 1415.3,289.5 C1417.1,285.0 1417.5,275.9 1420.1,270.3 C1422.7,264.7 1427.1,259.7 1430.9,256.0 C1434.7,252.2 1439.1,249.2 1442.9,247.6 C1446.7,245.9 1450.1,245.9 1453.7,245.9 C1457.3,245.9 1461.1,246.1 1464.5,247.6 C1467.9,249.0 1470.9,251.0 1474.1,254.8 C1477.3,258.6 1480.5,264.9 1483.7,270.3 C1486.9,275.7 1490.1,282.5 1493.3,287.1 C1496.4,291.7 1498.8,295.7 1502.8,297.9 C1506.8,300.1 1513.6,300.9 1517.2,300.3 C1520.8,299.7 1522.0,297.1 1524.4,294.3 C1526.8,291.5 1528.8,286.5 1531.6,283.5 C1534.4,280.5 1537.2,278.3 1541.2,276.3 C1545.2,274.3 1551.2,272.3 1555.6,271.5 C1560.0,270.7 1564.0,270.7 1567.6,271.5 C1571.2,272.3 1574.1,273.9 1577.1,276.3 C1580.1,278.7 1583.1,282.1 1585.5,285.9 C1587.9,289.7 1589.7,294.6 1591.5,299.1 C1593.3,303.6 1595.5,310.7 1596.3,313.0 Z" fill="url(#gDep)" stroke="#e58a6c" stroke-width="2" stroke-linejoin="round"/>
<rect x="1313.0" y="314.0" width="283.3" height="4" fill="#aee3b4"/>
<rect x="1250.7" y="539.0" width="394.8" height="35.0" fill="#b4d9a4" stroke="#a6d296" stroke-width="2"/>
<path d="M1300.3,539.3 C1301.7,536.0 1306.3,525.9 1308.7,519.6 C1311.1,513.3 1311.9,506.8 1314.7,501.6 C1317.5,496.4 1321.3,492.5 1325.5,488.5 C1329.7,484.5 1334.9,480.4 1339.8,477.7 C1344.8,475.0 1351.4,472.8 1355.4,472.2 C1359.4,471.6 1360.8,472.4 1363.8,474.1 C1366.8,475.8 1370.2,479.3 1373.4,482.5 C1376.6,485.7 1379.8,488.9 1383.0,493.3 C1386.2,497.6 1389.8,504.6 1392.6,508.8 C1395.4,513.0 1397.0,516.7 1399.8,518.4 C1402.6,520.1 1405.8,520.3 1409.4,519.1 C1413.0,517.9 1417.3,514.1 1421.3,511.2 C1425.3,508.3 1428.9,503.9 1433.3,501.6 C1437.7,499.4 1443.7,497.8 1447.7,497.6 C1451.7,497.4 1453.7,498.2 1457.3,500.4 C1460.9,502.7 1465.8,508.0 1469.3,511.2 C1472.8,514.4 1475.2,519.8 1478.4,519.6 C1481.6,519.4 1484.0,514.0 1488.5,510.0 C1492.9,506.0 1499.6,500.4 1505.2,495.6 C1510.8,490.9 1516.8,484.9 1522.0,481.3 C1527.2,477.7 1531.8,475.4 1536.4,474.1 C1541.0,472.8 1545.6,472.4 1549.6,473.6 C1553.6,474.8 1556.6,477.8 1560.4,481.3 C1564.2,484.7 1568.4,489.3 1572.3,494.4 C1576.3,499.6 1580.7,506.6 1584.3,512.4 C1587.9,518.2 1591.1,524.7 1593.9,529.2 C1596.7,533.7 1599.9,537.6 1601.1,539.3 Z" fill="url(#gDep)" stroke="#e58a6c" stroke-width="2" stroke-linejoin="round"/>
<rect x="1300.3" y="540.0" width="300.8" height="4" fill="#aee3b4"/>
<rect x="2742.6" y="313.0" width="394.7" height="35.0" fill="#b4d9a4" stroke="#a6d296" stroke-width="2"/>
<path d="M2862.9,313.9 C2864.5,311.5 2868.9,305.1 2872.5,299.1 C2876.1,293.0 2880.1,283.9 2884.5,277.5 C2888.9,271.1 2893.7,265.2 2898.9,260.7 C2904.1,256.3 2909.7,253.0 2915.7,250.7 C2921.6,248.4 2927.2,247.2 2934.8,246.8 C2942.4,246.5 2954.4,247.0 2961.2,248.8 C2968.0,250.5 2970.4,252.9 2975.6,257.1 C2980.8,261.3 2986.7,267.7 2992.3,273.9 C2997.9,280.1 3004.3,288.5 3009.1,294.3 C3013.9,300.1 3017.9,305.4 3021.1,308.7 C3024.3,311.9 3027.1,313.1 3028.3,313.9 Z" fill="url(#gDep)" stroke="#e58a6c" stroke-width="2" stroke-linejoin="round"/>
<rect x="2862.9" y="314.0" width="165.3" height="4" fill="#aee3b4"/>
<rect x="2744.0" y="540.0" width="395.0" height="34.6" fill="#b4d9a4" stroke="#a6d296" stroke-width="2"/>
<path d="M2783.9,539.9 L2795.8,521.9 L2809.0,502.7 L2813.8,499.4 L2867.7,498.7 L2963.6,497.7 L3055.8,498.9 L3060.6,502.3 L3073.8,519.5 L3093.0,539.9 Z" fill="url(#gDep)" stroke="#e58a6c" stroke-width="2" stroke-linejoin="round"/>
<rect x="2783.9" y="541.0" width="309.1" height="4" fill="#aee3b4"/>
<circle cx="278" cy="654.5" r="22.5" fill="url(#gCs)"/>
<circle cx="484.5" cy="658" r="18.5" fill="url(#gPb)"/>
<circle cx="673" cy="658" r="12.5" fill="url(#gBr)"/>
<circle cx="884.5" cy="656.5" r="25" fill="url(#gOr)"/>
<path d="M1284,688 C1312,686 1312,664 1322,652 C1332,640 1345,642 1356,633" fill="none" stroke="#dc3020" stroke-width="5" stroke-linecap="round"/>
<path d="M1645.5,684.6 C1680,640 1740,622 1805,630" fill="none" stroke="#b5202c" stroke-width="8"/>
<path d="M1842,635.5 L1806.7,603 L1795,655 Z" fill="#b5202c"/>
<path d="M2645.5,614.5 C2610,650 2560,668 2492,664" fill="none" stroke="#2b3853" stroke-width="8"/>
<path d="M2448,658 L2500.5,643.5 L2487,689 Z" fill="#33425f"/>
</g>
<text x="337.0" y="677.0" textLength="72.0" lengthAdjust="spacingAndGlyphs" style="font-family:'Liberation Sans',sans-serif;font-weight:bold;fill:#111;font-size:56px;" filter="url(#bt)">Cs</text>
<text x="544.7" y="677.0" textLength="69.0" lengthAdjust="spacingAndGlyphs" style="font-family:'Liberation Sans',sans-serif;font-weight:bold;fill:#111;font-size:56px;" filter="url(#bt)">Pb</text>
<text x="744.0" y="677.0" textLength="57.0" lengthAdjust="spacingAndGlyphs" style="font-family:'Liberation Sans',sans-serif;font-weight:bold;fill:#111;font-size:56px;" filter="url(#bt)">Br</text>
<text x="991" y="677" filter="url(#bt)" style="font-family:'Liberation Sans',sans-serif;font-weight:bold;fill:#111;font-size:56px">CsPbBr<tspan dy="14" font-size="36">3</tspan></text>
<text x="1425.7" y="677.0" textLength="112.0" lengthAdjust="spacingAndGlyphs" style="font-family:'Liberation Sans',sans-serif;font-weight:bold;fill:#111;font-size:56px;" filter="url(#bt)">PVP</text>
<text x="1906.0" y="681.0" textLength="416.0" lengthAdjust="spacingAndGlyphs" style="font-family:'Liberation Sans',sans-serif;font-weight:bold;fill:#111;font-size:56px;" filter="url(#bt)">Marangoni flow</text>
<text x="2682.7" y="681.0" textLength="366.0" lengthAdjust="spacingAndGlyphs" style="font-family:'Liberation Sans',sans-serif;font-weight:bold;fill:#111;font-size:56px;" filter="url(#bt)">Capillary flow</text>
<g filter="url(#b1)">
<rect x="262.5" y="865.5" width="671.5" height="649.5" fill="#0d0d0d"/>
<ellipse cx="383" cy="982" rx="46" ry="47" fill="#64c532"/>
<ellipse cx="609" cy="982" rx="49" ry="50" fill="#64c532"/>
<ellipse cx="823" cy="982" rx="48" ry="49" fill="#64c532"/>
<ellipse cx="383" cy="1192" rx="47" ry="48" fill="#64c532"/>
<ellipse cx="609" cy="1192" rx="49" ry="50" fill="#64c532"/>
<ellipse cx="823" cy="1192" rx="50" ry="51" fill="#64c532"/>
<ellipse cx="383" cy="1403" rx="46" ry="47" fill="#64c532"/>
<ellipse cx="609" cy="1403" rx="49" ry="50" fill="#64c532"/>
<ellipse cx="823" cy="1403" rx="50" ry="51" fill="#64c532"/>
<text x="768.0" y="1455.0" textLength="150.0" lengthAdjust="spacingAndGlyphs" style="font-family:'Liberation Serif',serif;fill:#fff;font-size:58px;fill:#fff">10 μm</text>
<rect x="811.0" y="1474.6" width="84.0" height="25.4" fill="#fff"/>
<rect x="818.0" y="1481.6" width="70.0" height="11.4" fill="#d4d4d8"/>
<rect x="1005.5" y="866.5" width="651.5" height="649.5" fill="#2f49a6"/>
<clipPath id="dc0"><path d="M1036.4,1050.5 C1038.6,1002.4 1060.9,977.4 1089.6,977.4 C1118.4,977.4 1140.7,1002.4 1142.8,1050.5 C1142.8,1065.9 1121.5,1073.5 1089.6,1073.5 C1057.7,1073.5 1036.4,1065.9 1036.4,1050.5 Z"/></clipPath>
<path d="M1036.4,1050.5 C1038.6,1002.4 1060.9,977.4 1089.6,977.4 C1118.4,977.4 1140.7,1002.4 1142.8,1050.5 C1142.8,1065.9 1121.5,1073.5 1089.6,1073.5 C1057.7,1073.5 1036.4,1065.9 1036.4,1050.5 Z" fill="#22357c" opacity="0.6" transform="translate(-3,2)" filter="url(#b2)"/>
<g clip-path="url(#dc0)"><g filter="url(#b2)">
<rect x="1026.4" y="967.4" width="126.4" height="116.2" fill="#2c9648"/>
<path d="M1030.4,1043.4 C1032.8,997.3 1057.7,973.4 1089.6,973.4 C1121.6,973.4 1146.5,997.3 1148.8,1043.4 C1148.8,1058.2 1125.1,1065.5 1089.6,1065.5 C1054.1,1065.5 1030.4,1058.2 1030.4,1043.4 Z" fill="#38ac3e"/>
<path d="M1030.4,1037.3 C1032.8,995.2 1057.7,973.4 1089.6,973.4 C1121.6,973.4 1146.5,995.2 1148.8,1037.3 C1148.8,1050.8 1125.1,1057.5 1089.6,1057.5 C1054.1,1057.5 1030.4,1050.8 1030.4,1037.3 Z" fill="#50c832"/>
<path d="M1030.4,1033.1 C1032.8,993.8 1057.7,973.4 1089.6,973.4 C1121.6,973.4 1146.5,993.8 1148.8,1033.1 C1148.8,1045.7 1125.1,1052.0 1089.6,1052.0 C1054.1,1052.0 1030.4,1045.7 1030.4,1033.1 Z" fill="#98dc28"/>
<path d="M1030.4,1030.1 C1032.8,992.8 1057.7,973.4 1089.6,973.4 C1121.6,973.4 1146.5,992.8 1148.8,1030.1 C1148.8,1042.0 1125.1,1048.0 1089.6,1048.0 C1054.1,1048.0 1030.4,1042.0 1030.4,1030.1 Z" fill="#e6e024"/>
<path d="M1030.4,1026.7 C1032.8,991.6 1057.7,973.4 1089.6,973.4 C1121.6,973.4 1146.5,991.6 1148.8,1026.7 C1148.8,1037.9 1125.1,1043.5 1089.6,1043.5 C1054.1,1043.5 1030.4,1037.9 1030.4,1026.7 Z" fill="#f0a822"/>
<path d="M1030.4,1023.2 C1032.8,990.4 1057.7,973.4 1089.6,973.4 C1121.6,973.4 1146.5,990.4 1148.8,1023.2 C1148.8,1033.7 1125.1,1039.0 1089.6,1039.0 C1054.1,1039.0 1030.4,1033.7 1030.4,1023.2 Z" fill="#ec6a22"/>
<path d="M1030.4,1019.0 C1032.8,989.0 1057.7,973.4 1089.6,973.4 C1121.6,973.4 1146.5,989.0 1148.8,1019.0 C1148.8,1028.7 1125.1,1033.5 1089.6,1033.5 C1054.1,1033.5 1030.4,1028.7 1030.4,1019.0 Z" fill="#e83a24"/>
<path d="M1030.4,1010.7 C1032.8,986.1 1057.7,973.4 1089.6,973.4 C1121.6,973.4 1146.5,986.1 1148.8,1010.7 C1148.8,1018.5 1125.1,1022.5 1089.6,1022.5 C1054.1,1022.5 1030.4,1018.5 1030.4,1010.7 Z" fill="#e2262e"/>
<path d="M1030.4,996.2 C1032.8,981.2 1057.7,973.4 1089.6,973.4 C1121.6,973.4 1146.5,981.2 1148.8,996.2 C1148.8,1001.0 1125.1,1003.4 1089.6,1003.4 C1054.1,1003.4 1030.4,1001.0 1030.4,996.2 Z" fill="#dc2838"/>
</g></g>
<ellipse cx="1083.2" cy="996.6" rx="18.1" ry="7.7" fill="#f4707c" opacity="0.4" filter="url(#b4)"/>
<ellipse cx="1102.4" cy="998.5" rx="12.8" ry="9.6" fill="#a02030" opacity="0.35" filter="url(#b4)"/>
<clipPath id="dc1"><path d="M1251.4,1049.9 C1253.5,1000.7 1275.4,975.1 1303.5,975.1 C1331.6,975.1 1353.5,1000.7 1355.6,1049.9 C1355.6,1065.7 1334.8,1073.5 1303.5,1073.5 C1272.3,1073.5 1251.4,1065.7 1251.4,1049.9 Z"/></clipPath>
<path d="M1251.4,1049.9 C1253.5,1000.7 1275.4,975.1 1303.5,975.1 C1331.6,975.1 1353.5,1000.7 1355.6,1049.9 C1355.6,1065.7 1334.8,1073.5 1303.5,1073.5 C1272.3,1073.5 1251.4,1065.7 1251.4,1049.9 Z" fill="#22357c" opacity="0.6" transform="translate(-3,2)" filter="url(#b2)"/>
<g clip-path="url(#dc1)"><g filter="url(#b2)">
<rect x="1241.4" y="965.1" width="124.2" height="118.4" fill="#2c9648"/>
<path d="M1245.4,1042.7 C1247.7,995.6 1272.1,971.1 1303.5,971.1 C1334.9,971.1 1359.3,995.6 1361.6,1042.7 C1361.6,1057.8 1338.4,1065.4 1303.5,1065.4 C1268.7,1065.4 1245.4,1057.8 1245.4,1042.7 Z" fill="#38ac3e"/>
<path d="M1245.4,1036.5 C1247.7,993.5 1272.1,971.1 1303.5,971.1 C1334.9,971.1 1359.3,993.5 1361.6,1036.5 C1361.6,1050.3 1338.4,1057.2 1303.5,1057.2 C1268.7,1057.2 1245.4,1050.3 1245.4,1036.5 Z" fill="#50c832"/>
<path d="M1245.4,1032.2 C1247.7,992.0 1272.1,971.1 1303.5,971.1 C1334.9,971.1 1359.3,992.0 1361.6,1032.2 C1361.6,1045.1 1338.4,1051.5 1303.5,1051.5 C1268.7,1051.5 1245.4,1045.1 1245.4,1032.2 Z" fill="#98dc28"/>
<path d="M1245.4,1029.1 C1247.7,991.0 1272.1,971.1 1303.5,971.1 C1334.9,971.1 1359.3,991.0 1361.6,1029.1 C1361.6,1041.3 1338.4,1047.4 1303.5,1047.4 C1268.7,1047.4 1245.4,1041.3 1245.4,1029.1 Z" fill="#e6e024"/>
<path d="M1245.4,1025.6 C1247.7,989.8 1272.1,971.1 1303.5,971.1 C1334.9,971.1 1359.3,989.8 1361.6,1025.6 C1361.6,1037.1 1338.4,1042.8 1303.5,1042.8 C1268.7,1042.8 1245.4,1037.1 1245.4,1025.6 Z" fill="#f0a822"/>
<path d="M1245.4,1022.1 C1247.7,988.6 1272.1,971.1 1303.5,971.1 C1334.9,971.1 1359.3,988.6 1361.6,1022.1 C1361.6,1032.9 1338.4,1038.2 1303.5,1038.2 C1268.7,1038.2 1245.4,1032.9 1245.4,1022.1 Z" fill="#ec6a22"/>
<path d="M1245.4,1017.8 C1247.7,987.1 1272.1,971.1 1303.5,971.1 C1334.9,971.1 1359.3,987.1 1361.6,1017.8 C1361.6,1027.7 1338.4,1032.6 1303.5,1032.6 C1268.7,1032.6 1245.4,1027.7 1245.4,1017.8 Z" fill="#e83a24"/>
<path d="M1245.4,1009.3 C1247.7,984.2 1272.1,971.1 1303.5,971.1 C1334.9,971.1 1359.3,984.2 1361.6,1009.3 C1361.6,1017.3 1338.4,1021.3 1303.5,1021.3 C1268.7,1021.3 1245.4,1017.3 1245.4,1009.3 Z" fill="#e2262e"/>
<path d="M1245.4,994.5 C1247.7,979.1 1272.1,971.1 1303.5,971.1 C1334.9,971.1 1359.3,979.1 1361.6,994.5 C1361.6,999.4 1338.4,1001.9 1303.5,1001.9 C1268.7,1001.9 1245.4,999.4 1245.4,994.5 Z" fill="#dc2838"/>
</g></g>
<ellipse cx="1297.3" cy="994.8" rx="17.7" ry="7.9" fill="#f4707c" opacity="0.4" filter="url(#b4)"/>
<ellipse cx="1316.0" cy="996.8" rx="12.5" ry="9.8" fill="#a02030" opacity="0.35" filter="url(#b4)"/>
<clipPath id="dc2"><path d="M1462.0,1053.0 C1464.1,1004.7 1486.4,979.6 1515.2,979.6 C1543.9,979.6 1566.2,1004.7 1568.4,1053.0 C1568.4,1068.5 1547.1,1076.2 1515.2,1076.2 C1483.2,1076.2 1462.0,1068.5 1462.0,1053.0 Z"/></clipPath>
<path d="M1462.0,1053.0 C1464.1,1004.7 1486.4,979.6 1515.2,979.6 C1543.9,979.6 1566.2,1004.7 1568.4,1053.0 C1568.4,1068.5 1547.1,1076.2 1515.2,1076.2 C1483.2,1076.2 1462.0,1068.5 1462.0,1053.0 Z" fill="#22357c" opacity="0.6" transform="translate(-3,2)" filter="url(#b2)"/>
<g clip-path="url(#dc2)"><g filter="url(#b2)">
<rect x="1452.0" y="969.6" width="126.4" height="116.6" fill="#2c9648"/>
<path d="M1456.0,1045.9 C1458.3,999.6 1483.2,975.6 1515.2,975.6 C1547.1,975.6 1572.0,999.6 1574.4,1045.9 C1574.4,1060.7 1550.7,1068.2 1515.2,1068.2 C1479.6,1068.2 1456.0,1060.7 1456.0,1045.9 Z" fill="#38ac3e"/>
<path d="M1456.0,1039.8 C1458.3,997.6 1483.2,975.6 1515.2,975.6 C1547.1,975.6 1572.0,997.6 1574.4,1039.8 C1574.4,1053.3 1550.7,1060.1 1515.2,1060.1 C1479.6,1060.1 1456.0,1053.3 1456.0,1039.8 Z" fill="#50c832"/>
<path d="M1456.0,1035.6 C1458.3,996.1 1483.2,975.6 1515.2,975.6 C1547.1,975.6 1572.0,996.1 1574.4,1035.6 C1574.4,1048.3 1550.7,1054.6 1515.2,1054.6 C1479.6,1054.6 1456.0,1048.3 1456.0,1035.6 Z" fill="#98dc28"/>
<path d="M1456.0,1032.6 C1458.3,995.1 1483.2,975.6 1515.2,975.6 C1547.1,975.6 1572.0,995.1 1574.4,1032.6 C1574.4,1044.5 1550.7,1050.5 1515.2,1050.5 C1479.6,1050.5 1456.0,1044.5 1456.0,1032.6 Z" fill="#e6e024"/>
<path d="M1456.0,1029.1 C1458.3,993.9 1483.2,975.6 1515.2,975.6 C1547.1,975.6 1572.0,993.9 1574.4,1029.1 C1574.4,1040.4 1550.7,1046.0 1515.2,1046.0 C1479.6,1046.0 1456.0,1040.4 1456.0,1029.1 Z" fill="#f0a822"/>
<path d="M1456.0,1025.7 C1458.3,992.7 1483.2,975.6 1515.2,975.6 C1547.1,975.6 1572.0,992.7 1574.4,1025.7 C1574.4,1036.2 1550.7,1041.5 1515.2,1041.5 C1479.6,1041.5 1456.0,1036.2 1456.0,1025.7 Z" fill="#ec6a22"/>
<path d="M1456.0,1021.5 C1458.3,991.3 1483.2,975.6 1515.2,975.6 C1547.1,975.6 1572.0,991.3 1574.4,1021.5 C1574.4,1031.1 1550.7,1036.0 1515.2,1036.0 C1479.6,1036.0 1456.0,1031.1 1456.0,1021.5 Z" fill="#e83a24"/>
<path d="M1456.0,1013.0 C1458.3,988.4 1483.2,975.6 1515.2,975.6 C1547.1,975.6 1572.0,988.4 1574.4,1013.0 C1574.4,1020.9 1550.7,1024.9 1515.2,1024.9 C1479.6,1024.9 1456.0,1020.9 1456.0,1013.0 Z" fill="#e2262e"/>
<path d="M1456.0,998.5 C1458.3,983.4 1483.2,975.6 1515.2,975.6 C1547.1,975.6 1572.0,983.4 1574.4,998.5 C1574.4,1003.3 1550.7,1005.8 1515.2,1005.8 C1479.6,1005.8 1456.0,1003.3 1456.0,998.5 Z" fill="#dc2838"/>
</g></g>
<ellipse cx="1508.8" cy="998.9" rx="18.1" ry="7.7" fill="#f4707c" opacity="0.4" filter="url(#b4)"/>
<ellipse cx="1527.9" cy="1000.8" rx="12.8" ry="9.7" fill="#a02030" opacity="0.35" filter="url(#b4)"/>
<clipPath id="dc3"><path d="M1032.0,1198.0 C1034.3,1143.2 1058.0,1114.8 1088.5,1114.8 C1119.0,1114.8 1142.8,1143.2 1145.0,1198.0 C1145.0,1215.5 1122.4,1224.3 1088.5,1224.3 C1054.6,1224.3 1032.0,1215.5 1032.0,1198.0 Z"/></clipPath>
<path d="M1032.0,1198.0 C1034.3,1143.2 1058.0,1114.8 1088.5,1114.8 C1119.0,1114.8 1142.8,1143.2 1145.0,1198.0 C1145.0,1215.5 1122.4,1224.3 1088.5,1224.3 C1054.6,1224.3 1032.0,1215.5 1032.0,1198.0 Z" fill="#22357c" opacity="0.6" transform="translate(-3,2)" filter="url(#b2)"/>
<g clip-path="url(#dc3)"><g filter="url(#b2)">
<rect x="1022.0" y="1104.8" width="133.0" height="129.5" fill="#2c9648"/>
<path d="M1026.0,1190.1 C1028.5,1137.9 1054.8,1110.8 1088.5,1110.8 C1122.3,1110.8 1148.5,1137.9 1151.0,1190.1 C1151.0,1206.8 1126.0,1215.2 1088.5,1215.2 C1051.0,1215.2 1026.0,1206.8 1026.0,1190.1 Z" fill="#38ac3e"/>
<path d="M1026.0,1183.2 C1028.5,1135.6 1054.8,1110.8 1088.5,1110.8 C1122.3,1110.8 1148.5,1135.6 1151.0,1183.2 C1151.0,1198.5 1126.0,1206.1 1088.5,1206.1 C1051.0,1206.1 1026.0,1198.5 1026.0,1183.2 Z" fill="#50c832"/>
<path d="M1026.0,1178.5 C1028.5,1133.9 1054.8,1110.8 1088.5,1110.8 C1122.3,1110.8 1148.5,1133.9 1151.0,1178.5 C1151.0,1192.7 1126.0,1199.9 1088.5,1199.9 C1051.0,1199.9 1026.0,1192.7 1026.0,1178.5 Z" fill="#98dc28"/>
<path d="M1026.0,1175.0 C1028.5,1132.8 1054.8,1110.8 1088.5,1110.8 C1122.3,1110.8 1148.5,1132.8 1151.0,1175.0 C1151.0,1188.6 1126.0,1195.3 1088.5,1195.3 C1051.0,1195.3 1026.0,1188.6 1026.0,1175.0 Z" fill="#e6e024"/>
<path d="M1026.0,1171.1 C1028.5,1131.4 1054.8,1110.8 1088.5,1110.8 C1122.3,1110.8 1148.5,1131.4 1151.0,1171.1 C1151.0,1183.9 1126.0,1190.2 1088.5,1190.2 C1051.0,1190.2 1026.0,1183.9 1026.0,1171.1 Z" fill="#f0a822"/>
<path d="M1026.0,1167.3 C1028.5,1130.1 1054.8,1110.8 1088.5,1110.8 C1122.3,1110.8 1148.5,1130.1 1151.0,1167.3 C1151.0,1179.2 1126.0,1185.1 1088.5,1185.1 C1051.0,1185.1 1026.0,1179.2 1026.0,1167.3 Z" fill="#ec6a22"/>
<path d="M1026.0,1162.5 C1028.5,1128.5 1054.8,1110.8 1088.5,1110.8 C1122.3,1110.8 1148.5,1128.5 1151.0,1162.5 C1151.0,1173.4 1126.0,1178.9 1088.5,1178.9 C1051.0,1178.9 1026.0,1173.4 1026.0,1162.5 Z" fill="#e83a24"/>
<path d="M1026.0,1153.0 C1028.5,1125.2 1054.8,1110.8 1088.5,1110.8 C1122.3,1110.8 1148.5,1125.2 1151.0,1153.0 C1151.0,1161.9 1126.0,1166.4 1088.5,1166.4 C1051.0,1166.4 1026.0,1161.9 1026.0,1153.0 Z" fill="#e2262e"/>
<path d="M1026.0,1136.6 C1028.5,1119.6 1054.8,1110.8 1088.5,1110.8 C1122.3,1110.8 1148.5,1119.6 1151.0,1136.6 C1151.0,1142.1 1126.0,1144.8 1088.5,1144.8 C1051.0,1144.8 1026.0,1142.1 1026.0,1136.6 Z" fill="#dc2838"/>
</g></g>
<ellipse cx="1081.7" cy="1136.7" rx="19.2" ry="8.8" fill="#f4707c" opacity="0.4" filter="url(#b4)"/>
<ellipse cx="1102.1" cy="1138.9" rx="13.6" ry="10.9" fill="#a02030" opacity="0.35" filter="url(#b4)"/>
<clipPath id="dc4"><path d="M1260.3,1198.3 C1262.5,1144.2 1285.8,1116.1 1315.7,1116.1 C1345.6,1116.1 1368.9,1144.2 1371.1,1198.3 C1371.1,1215.6 1348.9,1224.3 1315.7,1224.3 C1282.4,1224.3 1260.3,1215.6 1260.3,1198.3 Z"/></clipPath>
<path d="M1260.3,1198.3 C1262.5,1144.2 1285.8,1116.1 1315.7,1116.1 C1345.6,1116.1 1368.9,1144.2 1371.1,1198.3 C1371.1,1215.6 1348.9,1224.3 1315.7,1224.3 C1282.4,1224.3 1260.3,1215.6 1260.3,1198.3 Z" fill="#22357c" opacity="0.6" transform="translate(-3,2)" filter="url(#b2)"/>
<g clip-path="url(#dc4)"><g filter="url(#b2)">
<rect x="1250.3" y="1106.1" width="130.8" height="128.2" fill="#2c9648"/>
<path d="M1254.3,1190.5 C1256.7,1138.9 1282.5,1112.1 1315.7,1112.1 C1348.9,1112.1 1374.6,1138.9 1377.1,1190.5 C1377.1,1207.0 1352.5,1215.3 1315.7,1215.3 C1278.8,1215.3 1254.3,1207.0 1254.3,1190.5 Z" fill="#38ac3e"/>
<path d="M1254.3,1183.7 C1256.7,1136.6 1282.5,1112.1 1315.7,1112.1 C1348.9,1112.1 1374.6,1136.6 1377.1,1183.7 C1377.1,1198.8 1352.5,1206.3 1315.7,1206.3 C1278.8,1206.3 1254.3,1198.8 1254.3,1183.7 Z" fill="#50c832"/>
<path d="M1254.3,1179.0 C1256.7,1135.0 1282.5,1112.1 1315.7,1112.1 C1348.9,1112.1 1374.6,1135.0 1377.1,1179.0 C1377.1,1193.1 1352.5,1200.1 1315.7,1200.1 C1278.8,1200.1 1254.3,1193.1 1254.3,1179.0 Z" fill="#98dc28"/>
<path d="M1254.3,1175.6 C1256.7,1133.8 1282.5,1112.1 1315.7,1112.1 C1348.9,1112.1 1374.6,1133.8 1377.1,1175.6 C1377.1,1189.0 1352.5,1195.7 1315.7,1195.7 C1278.8,1195.7 1254.3,1189.0 1254.3,1175.6 Z" fill="#e6e024"/>
<path d="M1254.3,1171.8 C1256.7,1132.5 1282.5,1112.1 1315.7,1112.1 C1348.9,1112.1 1374.6,1132.5 1377.1,1171.8 C1377.1,1184.3 1352.5,1190.6 1315.7,1190.6 C1278.8,1190.6 1254.3,1184.3 1254.3,1171.8 Z" fill="#f0a822"/>
<path d="M1254.3,1167.9 C1256.7,1131.2 1282.5,1112.1 1315.7,1112.1 C1348.9,1112.1 1374.6,1131.2 1377.1,1167.9 C1377.1,1179.7 1352.5,1185.6 1315.7,1185.6 C1278.8,1185.6 1254.3,1179.7 1254.3,1167.9 Z" fill="#ec6a22"/>
<path d="M1254.3,1163.2 C1256.7,1129.6 1282.5,1112.1 1315.7,1112.1 C1348.9,1112.1 1374.6,1129.6 1377.1,1163.2 C1377.1,1174.0 1352.5,1179.4 1315.7,1179.4 C1278.8,1179.4 1254.3,1174.0 1254.3,1163.2 Z" fill="#e83a24"/>
<path d="M1254.3,1153.9 C1256.7,1126.4 1282.5,1112.1 1315.7,1112.1 C1348.9,1112.1 1374.6,1126.4 1377.1,1153.9 C1377.1,1162.7 1352.5,1167.1 1315.7,1167.1 C1278.8,1167.1 1254.3,1162.7 1254.3,1153.9 Z" fill="#e2262e"/>
<path d="M1254.3,1137.7 C1256.7,1120.8 1282.5,1112.1 1315.7,1112.1 C1348.9,1112.1 1374.6,1120.8 1377.1,1137.7 C1377.1,1143.1 1352.5,1145.7 1315.7,1145.7 C1278.8,1145.7 1254.3,1143.1 1254.3,1137.7 Z" fill="#dc2838"/>
</g></g>
<ellipse cx="1309.0" cy="1137.7" rx="18.8" ry="8.7" fill="#f4707c" opacity="0.4" filter="url(#b4)"/>
<ellipse cx="1329.0" cy="1139.9" rx="13.3" ry="10.8" fill="#a02030" opacity="0.35" filter="url(#b4)"/>
<clipPath id="dc5"><path d="M1488.6,1200.6 C1490.9,1148.5 1515.1,1121.4 1546.2,1121.4 C1577.3,1121.4 1601.5,1148.5 1603.8,1200.6 C1603.8,1217.3 1580.8,1225.6 1546.2,1225.6 C1511.6,1225.6 1488.6,1217.3 1488.6,1200.6 Z"/></clipPath>
<path d="M1488.6,1200.6 C1490.9,1148.5 1515.1,1121.4 1546.2,1121.4 C1577.3,1121.4 1601.5,1148.5 1603.8,1200.6 C1603.8,1217.3 1580.8,1225.6 1546.2,1225.6 C1511.6,1225.6 1488.6,1217.3 1488.6,1200.6 Z" fill="#22357c" opacity="0.6" transform="translate(-3,2)" filter="url(#b2)"/>
<g clip-path="url(#dc5)"><g filter="url(#b2)">
<rect x="1478.6" y="1111.4" width="135.2" height="124.2" fill="#2c9648"/>
<path d="M1482.6,1193.0 C1485.1,1143.3 1511.8,1117.4 1546.2,1117.4 C1580.5,1117.4 1607.3,1143.3 1609.8,1193.0 C1609.8,1209.0 1584.4,1216.9 1546.2,1216.9 C1508.0,1216.9 1482.6,1209.0 1482.6,1193.0 Z" fill="#38ac3e"/>
<path d="M1482.6,1186.5 C1485.1,1141.0 1511.8,1117.4 1546.2,1117.4 C1580.5,1117.4 1607.3,1141.0 1609.8,1186.5 C1609.8,1201.0 1584.4,1208.3 1546.2,1208.3 C1508.0,1208.3 1482.6,1201.0 1482.6,1186.5 Z" fill="#50c832"/>
<path d="M1482.6,1182.0 C1485.1,1139.5 1511.8,1117.4 1546.2,1117.4 C1580.5,1117.4 1607.3,1139.5 1609.8,1182.0 C1609.8,1195.5 1584.4,1202.3 1546.2,1202.3 C1508.0,1202.3 1482.6,1195.5 1482.6,1182.0 Z" fill="#98dc28"/>
<path d="M1482.6,1178.7 C1485.1,1138.4 1511.8,1117.4 1546.2,1117.4 C1580.5,1117.4 1607.3,1138.4 1609.8,1178.7 C1609.8,1191.6 1584.4,1198.0 1546.2,1198.0 C1508.0,1198.0 1482.6,1191.6 1482.6,1178.7 Z" fill="#e6e024"/>
<path d="M1482.6,1175.0 C1485.1,1137.1 1511.8,1117.4 1546.2,1117.4 C1580.5,1117.4 1607.3,1137.1 1609.8,1175.0 C1609.8,1187.1 1584.4,1193.1 1546.2,1193.1 C1508.0,1193.1 1482.6,1187.1 1482.6,1175.0 Z" fill="#f0a822"/>
<path d="M1482.6,1171.3 C1485.1,1135.8 1511.8,1117.4 1546.2,1117.4 C1580.5,1117.4 1607.3,1135.8 1609.8,1171.3 C1609.8,1182.6 1584.4,1188.3 1546.2,1188.3 C1508.0,1188.3 1482.6,1182.6 1482.6,1171.3 Z" fill="#ec6a22"/>
<path d="M1482.6,1166.7 C1485.1,1134.3 1511.8,1117.4 1546.2,1117.4 C1580.5,1117.4 1607.3,1134.3 1609.8,1166.7 C1609.8,1177.1 1584.4,1182.3 1546.2,1182.3 C1508.0,1182.3 1482.6,1177.1 1482.6,1166.7 Z" fill="#e83a24"/>
<path d="M1482.6,1157.7 C1485.1,1131.2 1511.8,1117.4 1546.2,1117.4 C1580.5,1117.4 1607.3,1131.2 1609.8,1157.7 C1609.8,1166.2 1584.4,1170.4 1546.2,1170.4 C1508.0,1170.4 1482.6,1166.2 1482.6,1157.7 Z" fill="#e2262e"/>
<path d="M1482.6,1142.1 C1485.1,1125.9 1511.8,1117.4 1546.2,1117.4 C1580.5,1117.4 1607.3,1125.9 1609.8,1142.1 C1609.8,1147.3 1584.4,1149.9 1546.2,1149.9 C1508.0,1149.9 1482.6,1147.3 1482.6,1142.1 Z" fill="#dc2838"/>
</g></g>
<ellipse cx="1539.3" cy="1142.3" rx="19.6" ry="8.3" fill="#f4707c" opacity="0.4" filter="url(#b4)"/>
<ellipse cx="1560.0" cy="1144.3" rx="13.8" ry="10.4" fill="#a02030" opacity="0.35" filter="url(#b4)"/>
<clipPath id="dc6"><path d="M1023.1,1368.6 C1025.6,1311.0 1051.2,1281.0 1084.1,1281.0 C1117.0,1281.0 1142.6,1311.0 1145.0,1368.6 C1145.0,1387.0 1120.7,1396.2 1084.1,1396.2 C1047.5,1396.2 1023.1,1387.0 1023.1,1368.6 Z"/></clipPath>
<path d="M1023.1,1368.6 C1025.6,1311.0 1051.2,1281.0 1084.1,1281.0 C1117.0,1281.0 1142.6,1311.0 1145.0,1368.6 C1145.0,1387.0 1120.7,1396.2 1084.1,1396.2 C1047.5,1396.2 1023.1,1387.0 1023.1,1368.6 Z" fill="#22357c" opacity="0.6" transform="translate(-3,2)" filter="url(#b2)"/>
<g clip-path="url(#dc6)"><g filter="url(#b2)">
<rect x="1013.1" y="1271.0" width="141.9" height="135.2" fill="#2c9648"/>
<path d="M1017.1,1360.4 C1019.8,1305.5 1047.9,1277.0 1084.1,1277.0 C1120.2,1277.0 1148.4,1305.5 1151.0,1360.4 C1151.0,1377.9 1124.3,1386.7 1084.1,1386.7 C1043.9,1386.7 1017.1,1377.9 1017.1,1360.4 Z" fill="#38ac3e"/>
<path d="M1017.1,1353.1 C1019.8,1303.0 1047.9,1277.0 1084.1,1277.0 C1120.2,1277.0 1148.4,1303.0 1151.0,1353.1 C1151.0,1369.1 1124.3,1377.2 1084.1,1377.2 C1043.9,1377.2 1017.1,1369.1 1017.1,1353.1 Z" fill="#50c832"/>
<path d="M1017.1,1348.1 C1019.8,1301.3 1047.9,1277.0 1084.1,1277.0 C1120.2,1277.0 1148.4,1301.3 1151.0,1348.1 C1151.0,1363.1 1124.3,1370.6 1084.1,1370.6 C1043.9,1370.6 1017.1,1363.1 1017.1,1348.1 Z" fill="#98dc28"/>
<path d="M1017.1,1344.5 C1019.8,1300.1 1047.9,1277.0 1084.1,1277.0 C1120.2,1277.0 1148.4,1300.1 1151.0,1344.5 C1151.0,1358.7 1124.3,1365.8 1084.1,1365.8 C1043.9,1365.8 1017.1,1358.7 1017.1,1344.5 Z" fill="#e6e024"/>
<path d="M1017.1,1340.4 C1019.8,1298.7 1047.9,1277.0 1084.1,1277.0 C1120.2,1277.0 1148.4,1298.7 1151.0,1340.4 C1151.0,1353.8 1124.3,1360.5 1084.1,1360.5 C1043.9,1360.5 1017.1,1353.8 1017.1,1340.4 Z" fill="#f0a822"/>
<path d="M1017.1,1336.4 C1019.8,1297.3 1047.9,1277.0 1084.1,1277.0 C1120.2,1277.0 1148.4,1297.3 1151.0,1336.4 C1151.0,1348.9 1124.3,1355.1 1084.1,1355.1 C1043.9,1355.1 1017.1,1348.9 1017.1,1336.4 Z" fill="#ec6a22"/>
<path d="M1017.1,1331.4 C1019.8,1295.6 1047.9,1277.0 1084.1,1277.0 C1120.2,1277.0 1148.4,1295.6 1151.0,1331.4 C1151.0,1342.8 1124.3,1348.5 1084.1,1348.5 C1043.9,1348.5 1017.1,1342.8 1017.1,1331.4 Z" fill="#e83a24"/>
<path d="M1017.1,1321.4 C1019.8,1292.2 1047.9,1277.0 1084.1,1277.0 C1120.2,1277.0 1148.4,1292.2 1151.0,1321.4 C1151.0,1330.8 1124.3,1335.4 1084.1,1335.4 C1043.9,1335.4 1017.1,1330.8 1017.1,1321.4 Z" fill="#e2262e"/>
<path d="M1017.1,1304.2 C1019.8,1286.3 1047.9,1277.0 1084.1,1277.0 C1120.2,1277.0 1148.4,1286.3 1151.0,1304.2 C1151.0,1309.9 1124.3,1312.8 1084.1,1312.8 C1043.9,1312.8 1017.1,1309.9 1017.1,1304.2 Z" fill="#dc2838"/>
</g></g>
<ellipse cx="1076.8" cy="1304.0" rx="20.7" ry="9.2" fill="#f4707c" opacity="0.4" filter="url(#b4)"/>
<ellipse cx="1098.7" cy="1306.3" rx="14.6" ry="11.5" fill="#a02030" opacity="0.35" filter="url(#b4)"/>
<clipPath id="dc7"><path d="M1273.6,1368.6 C1276.0,1311.0 1301.1,1281.0 1333.4,1281.0 C1365.7,1281.0 1390.9,1311.0 1393.3,1368.6 C1393.3,1387.0 1369.3,1396.2 1333.4,1396.2 C1297.5,1396.2 1273.6,1387.0 1273.6,1368.6 Z"/></clipPath>
<path d="M1273.6,1368.6 C1276.0,1311.0 1301.1,1281.0 1333.4,1281.0 C1365.7,1281.0 1390.9,1311.0 1393.3,1368.6 C1393.3,1387.0 1369.3,1396.2 1333.4,1396.2 C1297.5,1396.2 1273.6,1387.0 1273.6,1368.6 Z" fill="#22357c" opacity="0.6" transform="translate(-3,2)" filter="url(#b2)"/>
<g clip-path="url(#dc7)"><g filter="url(#b2)">
<rect x="1263.6" y="1271.0" width="139.7" height="135.2" fill="#2c9648"/>
<path d="M1267.6,1360.4 C1270.2,1305.5 1297.9,1277.0 1333.4,1277.0 C1369.0,1277.0 1396.6,1305.5 1399.3,1360.4 C1399.3,1377.9 1372.9,1386.7 1333.4,1386.7 C1293.9,1386.7 1267.6,1377.9 1267.6,1360.4 Z" fill="#38ac3e"/>
<path d="M1267.6,1353.1 C1270.2,1303.0 1297.9,1277.0 1333.4,1277.0 C1369.0,1277.0 1396.6,1303.0 1399.3,1353.1 C1399.3,1369.1 1372.9,1377.2 1333.4,1377.2 C1293.9,1377.2 1267.6,1369.1 1267.6,1353.1 Z" fill="#50c832"/>
<path d="M1267.6,1348.1 C1270.2,1301.3 1297.9,1277.0 1333.4,1277.0 C1369.0,1277.0 1396.6,1301.3 1399.3,1348.1 C1399.3,1363.1 1372.9,1370.6 1333.4,1370.6 C1293.9,1370.6 1267.6,1363.1 1267.6,1348.1 Z" fill="#98dc28"/>
<path d="M1267.6,1344.5 C1270.2,1300.1 1297.9,1277.0 1333.4,1277.0 C1369.0,1277.0 1396.6,1300.1 1399.3,1344.5 C1399.3,1358.7 1372.9,1365.8 1333.4,1365.8 C1293.9,1365.8 1267.6,1358.7 1267.6,1344.5 Z" fill="#e6e024"/>
<path d="M1267.6,1340.4 C1270.2,1298.7 1297.9,1277.0 1333.4,1277.0 C1369.0,1277.0 1396.6,1298.7 1399.3,1340.4 C1399.3,1353.8 1372.9,1360.5 1333.4,1360.5 C1293.9,1360.5 1267.6,1353.8 1267.6,1340.4 Z" fill="#f0a822"/>
<path d="M1267.6,1336.4 C1270.2,1297.3 1297.9,1277.0 1333.4,1277.0 C1369.0,1277.0 1396.6,1297.3 1399.3,1336.4 C1399.3,1348.9 1372.9,1355.1 1333.4,1355.1 C1293.9,1355.1 1267.6,1348.9 1267.6,1336.4 Z" fill="#ec6a22"/>
<path d="M1267.6,1331.4 C1270.2,1295.6 1297.9,1277.0 1333.4,1277.0 C1369.0,1277.0 1396.6,1295.6 1399.3,1331.4 C1399.3,1342.8 1372.9,1348.5 1333.4,1348.5 C1293.9,1348.5 1267.6,1342.8 1267.6,1331.4 Z" fill="#e83a24"/>
<path d="M1267.6,1321.4 C1270.2,1292.2 1297.9,1277.0 1333.4,1277.0 C1369.0,1277.0 1396.6,1292.2 1399.3,1321.4 C1399.3,1330.8 1372.9,1335.4 1333.4,1335.4 C1293.9,1335.4 1267.6,1330.8 1267.6,1321.4 Z" fill="#e2262e"/>
<path d="M1267.6,1304.2 C1270.2,1286.3 1297.9,1277.0 1333.4,1277.0 C1369.0,1277.0 1396.6,1286.3 1399.3,1304.2 C1399.3,1309.9 1372.9,1312.8 1333.4,1312.8 C1293.9,1312.8 1267.6,1309.9 1267.6,1304.2 Z" fill="#dc2838"/>
</g></g>
<ellipse cx="1326.2" cy="1304.0" rx="20.3" ry="9.2" fill="#f4707c" opacity="0.4" filter="url(#b4)"/>
<ellipse cx="1347.8" cy="1306.3" rx="14.4" ry="11.5" fill="#a02030" opacity="0.35" filter="url(#b4)"/>
<clipPath id="dc8"><path d="M1521.8,1372.0 C1524.2,1312.1 1549.8,1281.0 1582.8,1281.0 C1615.7,1281.0 1641.3,1312.1 1643.7,1372.0 C1643.7,1391.1 1619.3,1400.7 1582.8,1400.7 C1546.2,1400.7 1521.8,1391.1 1521.8,1372.0 Z"/></clipPath>
<path d="M1521.8,1372.0 C1524.2,1312.1 1549.8,1281.0 1582.8,1281.0 C1615.7,1281.0 1641.3,1312.1 1643.7,1372.0 C1643.7,1391.1 1619.3,1400.7 1582.8,1400.7 C1546.2,1400.7 1521.8,1391.1 1521.8,1372.0 Z" fill="#22357c" opacity="0.6" transform="translate(-3,2)" filter="url(#b2)"/>
<g clip-path="url(#dc8)"><g filter="url(#b2)">
<rect x="1511.8" y="1271.0" width="141.9" height="139.7" fill="#2c9648"/>
<path d="M1515.8,1363.5 C1518.5,1306.6 1546.6,1277.0 1582.8,1277.0 C1618.9,1277.0 1647.0,1306.6 1649.7,1363.5 C1649.7,1381.7 1622.9,1390.8 1582.8,1390.8 C1542.6,1390.8 1515.8,1381.7 1515.8,1363.5 Z" fill="#38ac3e"/>
<path d="M1515.8,1356.0 C1518.5,1304.0 1546.6,1277.0 1582.8,1277.0 C1618.9,1277.0 1647.0,1304.0 1649.7,1356.0 C1649.7,1372.6 1622.9,1380.9 1582.8,1380.9 C1542.6,1380.9 1515.8,1372.6 1515.8,1356.0 Z" fill="#50c832"/>
<path d="M1515.8,1350.8 C1518.5,1302.2 1546.6,1277.0 1582.8,1277.0 C1618.9,1277.0 1647.0,1302.2 1649.7,1350.8 C1649.7,1366.3 1622.9,1374.1 1582.8,1374.1 C1542.6,1374.1 1515.8,1366.3 1515.8,1350.8 Z" fill="#98dc28"/>
<path d="M1515.8,1347.0 C1518.5,1300.9 1546.6,1277.0 1582.8,1277.0 C1618.9,1277.0 1647.0,1300.9 1649.7,1347.0 C1649.7,1361.8 1622.9,1369.1 1582.8,1369.1 C1542.6,1369.1 1515.8,1361.8 1515.8,1347.0 Z" fill="#e6e024"/>
<path d="M1515.8,1342.8 C1518.5,1299.5 1546.6,1277.0 1582.8,1277.0 C1618.9,1277.0 1647.0,1299.5 1649.7,1342.8 C1649.7,1356.6 1622.9,1363.6 1582.8,1363.6 C1542.6,1363.6 1515.8,1356.6 1515.8,1342.8 Z" fill="#f0a822"/>
<path d="M1515.8,1338.6 C1518.5,1298.1 1546.6,1277.0 1582.8,1277.0 C1618.9,1277.0 1647.0,1298.1 1649.7,1338.6 C1649.7,1351.5 1622.9,1358.0 1582.8,1358.0 C1542.6,1358.0 1515.8,1351.5 1515.8,1338.6 Z" fill="#ec6a22"/>
<path d="M1515.8,1333.4 C1518.5,1296.3 1546.6,1277.0 1582.8,1277.0 C1618.9,1277.0 1647.0,1296.3 1649.7,1333.4 C1649.7,1345.3 1622.9,1351.2 1582.8,1351.2 C1542.6,1351.2 1515.8,1345.3 1515.8,1333.4 Z" fill="#e83a24"/>
<path d="M1515.8,1323.1 C1518.5,1292.7 1546.6,1277.0 1582.8,1277.0 C1618.9,1277.0 1647.0,1292.7 1649.7,1323.1 C1649.7,1332.7 1622.9,1337.6 1582.8,1337.6 C1542.6,1337.6 1515.8,1332.7 1515.8,1323.1 Z" fill="#e2262e"/>
<path d="M1515.8,1305.2 C1518.5,1286.6 1546.6,1277.0 1582.8,1277.0 C1618.9,1277.0 1647.0,1286.6 1649.7,1305.2 C1649.7,1311.1 1622.9,1314.1 1582.8,1314.1 C1542.6,1314.1 1515.8,1311.1 1515.8,1305.2 Z" fill="#dc2838"/>
</g></g>
<ellipse cx="1575.4" cy="1304.9" rx="20.7" ry="9.6" fill="#f4707c" opacity="0.4" filter="url(#b4)"/>
<ellipse cx="1597.4" cy="1307.3" rx="14.6" ry="12.0" fill="#a02030" opacity="0.35" filter="url(#b4)"/>
<rect x="1612.7" y="925.5" width="26.5" height="147" fill="url(#gBar)"/>
<text x="1577.0" y="906.0" textLength="70.0" lengthAdjust="spacingAndGlyphs" style="font-family:'Liberation Serif',serif;fill:#fff;font-size:58px;fill:#fff">μm</text>
<text x="1528.0" y="987.5" textLength="63.0" lengthAdjust="spacingAndGlyphs" style="font-family:'Liberation Serif',serif;fill:#fff;font-size:58px;fill:#fff">1.3</text>
<text x="1568.0" y="1081.5" textLength="24.0" lengthAdjust="spacingAndGlyphs" style="font-family:'Liberation Serif',serif;fill:#fff;font-size:58px;fill:#fff">0</text>
<text x="1487.0" y="1449.0" textLength="146.0" lengthAdjust="spacingAndGlyphs" style="font-family:'Liberation Serif',serif;fill:#fff;font-size:58px;fill:#fff">10 μm</text>
<rect x="1533.0" y="1470.0" width="80.5" height="24.0" fill="#fff"/>
<rect x="1540.0" y="1477.0" width="66.5" height="10.0" fill="#d4d4d8"/>
<rect x="1735" y="867.5" width="663.5" height="645" fill="#0e0e0e"/>
<circle cx="1786.7" cy="913.4" r="6.0" fill="#5fd038"/>
<circle cx="1900.7" cy="913.4" r="5.5" fill="#5fd038"/>
<circle cx="2013.7" cy="913.4" r="5.5" fill="#5fd038"/>
<circle cx="2126.7" cy="913.4" r="6.0" fill="#5fd038"/>
<circle cx="1786.7" cy="1026.4" r="5.5" fill="#5fd038"/>
<circle cx="1900.7" cy="1026.4" r="4.5" fill="#5fd038"/>
<circle cx="2013.7" cy="1026.4" r="6.0" fill="#5fd038"/>
<circle cx="2126.7" cy="1026.4" r="5.5" fill="#5fd038"/>
<circle cx="1786.7" cy="1139.0" r="5.5" fill="#5fd038"/>
<circle cx="1900.7" cy="1139.0" r="6.0" fill="#5fd038"/>
<circle cx="2013.7" cy="1139.0" r="5.5" fill="#5fd038"/>
<circle cx="2126.7" cy="1139.0" r="5.5" fill="#5fd038"/>
<circle cx="2239.7" cy="1139.0" r="6.0" fill="#5fd038"/>
<circle cx="2354.2" cy="1139.0" r="5.5" fill="#5fd038"/>
<circle cx="1786.7" cy="1252.0" r="6.0" fill="#5fd038"/>
<circle cx="1900.7" cy="1252.0" r="5.5" fill="#5fd038"/>
<circle cx="2013.7" cy="1252.0" r="5.5" fill="#5fd038"/>
<circle cx="2126.7" cy="1252.0" r="4.5" fill="#5fd038"/>
<circle cx="2239.7" cy="1252.0" r="5.5" fill="#5fd038"/>
<circle cx="2354.2" cy="1252.0" r="5.5" fill="#5fd038"/>
<circle cx="1786.7" cy="1365.0" r="5.5" fill="#5fd038"/>
<circle cx="1900.7" cy="1365.0" r="5.5" fill="#5fd038"/>
<circle cx="2013.7" cy="1365.0" r="6.0" fill="#5fd038"/>
<circle cx="2126.7" cy="1365.0" r="5.5" fill="#5fd038"/>
<circle cx="2239.7" cy="1365.0" r="5.5" fill="#5fd038"/>
<circle cx="2354.2" cy="1365.0" r="6.0" fill="#5fd038"/>
<circle cx="1786.7" cy="1478.0" r="5.5" fill="#5fd038"/>
<circle cx="1900.7" cy="1478.0" r="6.0" fill="#5fd038"/>
<circle cx="2013.7" cy="1478.0" r="5.5" fill="#5fd038"/>
<circle cx="2126.7" cy="1478.0" r="4.5" fill="#5fd038"/>
<circle cx="2239.7" cy="1478.0" r="6.0" fill="#5fd038"/>
<circle cx="2354.2" cy="1478.0" r="5.5" fill="#5fd038"/>
<rect x="2177" y="871.5" width="215" height="220" fill="#363636"/>
<rect x="2177" y="871.5" width="215" height="220" filter="url(#noise)" opacity="0.55"/>
<circle cx="2288" cy="975" r="63" fill="#8e8e8e"/>
<circle cx="2288" cy="975" r="63" fill="none" stroke="#a8a8a8" stroke-width="3"/>
<text x="2304" y="1038" textLength="77" lengthAdjust="spacingAndGlyphs" style="font-family:'Liberation Sans',sans-serif;font-weight:bold;font-size:22px;fill:#fff;stroke:#222;stroke-width:2px;paint-order:stroke">500nm</text>
<rect x="2310.0" y="1048.0" width="74.7" height="27.6" fill="#fff"/>
<rect x="2317.0" y="1055.0" width="60.7" height="13.6" fill="#d4d4d8"/>
<text x="2218.0" y="1455.0" textLength="151.0" lengthAdjust="spacingAndGlyphs" style="font-family:'Liberation Serif',serif;fill:#fff;font-size:58px;fill:#fff">10 μm</text>
<rect x="2257.4" y="1482.0" width="83.0" height="24.5" fill="#fff"/>
<rect x="2264.4" y="1489.0" width="69.0" height="10.5" fill="#d4d4d8"/>
<rect x="2468" y="867.5" width="669" height="644" fill="#0e0e0e"/>
<path d="M2468,942.5 L3137,944.0 L3137,971.5 L2468,970.0 Z" fill="#5fc435"/>
<path d="M2468,1103.6 L3137,1105.1 L3137,1132.2 L2468,1130.7 Z" fill="#5fc435"/>
<path d="M2468,1257.0 L3137,1258.5 L3137,1286.0 L2468,1284.5 Z" fill="#5fc435"/>
<path d="M2468,1417.0 L3137,1418.5 L3137,1443.2 L2468,1441.7 Z" fill="#5fc435"/>
<text x="2967.0" y="1453.5" textLength="149.0" lengthAdjust="spacingAndGlyphs" style="font-family:'Liberation Serif',serif;fill:#fff;font-size:58px;fill:#fff">10 μm</text>
<rect x="2993.7" y="1476.0" width="86.0" height="24.0" fill="#fff"/>
<rect x="3000.7" y="1483.0" width="72.0" height="10.0" fill="#d4d4d8"/>
</g>
<defs><clipPath id="clipE"><rect x="262.5" y="1630.5" width="2882.5" height="741.5"/></clipPath>
<linearGradient id="gBody" x1="0" y1="0" x2="1" y2="0"><stop offset="0" stop-color="#20265a"/><stop offset="0.1" stop-color="#141838"/><stop offset="0.25" stop-color="#0c0f2a"/><stop offset="0.75" stop-color="#0c0f2a"/><stop offset="0.9" stop-color="#141838"/><stop offset="1" stop-color="#20265a"/></linearGradient>
<linearGradient id="gBodyW" x1="0" y1="0" x2="1" y2="0"><stop offset="0" stop-color="#262a48"/><stop offset="0.1" stop-color="#161a3a"/><stop offset="0.3" stop-color="#101434"/><stop offset="0.7" stop-color="#101434"/><stop offset="0.9" stop-color="#161a3a"/><stop offset="1" stop-color="#282c46"/></linearGradient>
<linearGradient id="gBodyD" x1="0" y1="0" x2="1" y2="0"><stop offset="0" stop-color="#1c2036"/><stop offset="0.12" stop-color="#0d1122"/><stop offset="0.5" stop-color="#0a0d1c"/><stop offset="0.88" stop-color="#0d1122"/><stop offset="1" stop-color="#1c2036"/></linearGradient>
<linearGradient id="gBlueTop" x1="0" y1="0" x2="0" y2="1"><stop offset="0" stop-color="#2c42d0"/><stop offset="0.5" stop-color="#2234a8"/><stop offset="1" stop-color="#141c60"/></linearGradient>
<linearGradient id="gInE" x1="0" y1="0" x2="0" y2="1"><stop offset="0" stop-color="#182068"/><stop offset="0.45" stop-color="#1c2a90"/><stop offset="0.8" stop-color="#2438c0"/><stop offset="1" stop-color="#1e30a0"/></linearGradient>
<linearGradient id="gInI" x1="0" y1="0" x2="0" y2="1"><stop offset="0" stop-color="#2a40c8"/><stop offset="0.4" stop-color="#2434a4"/><stop offset="0.75" stop-color="#2a3aa0"/><stop offset="1" stop-color="#1c2880"/></linearGradient>
<linearGradient id="gInT" x1="0" y1="0" x2="0" y2="1"><stop offset="0" stop-color="#2a3ecc"/><stop offset="0.3" stop-color="#2838b0"/><stop offset="0.55" stop-color="#2a3280"/><stop offset="1" stop-color="#242a68"/></linearGradient>
<linearGradient id="gInD" x1="0" y1="0" x2="0" y2="1"><stop offset="0" stop-color="#1a2048"/><stop offset="0.5" stop-color="#141a3a"/><stop offset="1" stop-color="#0e1228"/></linearGradient>
<linearGradient id="gRain" x1="0" y1="0" x2="0" y2="1"><stop offset="0" stop-color="#e84820"/><stop offset="0.28" stop-color="#f0a020"/><stop offset="0.48" stop-color="#d8e030"/><stop offset="0.64" stop-color="#40c040"/><stop offset="0.82" stop-color="#2050d0"/><stop offset="1" stop-color="#6030a0"/></linearGradient>
<linearGradient id="gRainH" x1="0" y1="0" x2="1" y2="0"><stop offset="0" stop-color="#e84020" stop-opacity="0.9"/><stop offset="0.2" stop-color="#e84020" stop-opacity="0"/><stop offset="0.8" stop-color="#e84020" stop-opacity="0"/><stop offset="1" stop-color="#e84020" stop-opacity="0.9"/></linearGradient>
</defs>
<g clip-path="url(#clipE)">
<rect x="262.5" y="1630.5" width="2882.5" height="741.5" fill="#05070d"/>
<rect x="812" y="1630" width="608" height="470" fill="#0b0e28"/>
<rect x="812" y="2100" width="608" height="60" fill="#080a1a"/>
<rect x="838" y="1738" width="44" height="340" fill="#222a6c" opacity="0.8" filter="url(#b4)"/>
<rect x="1418" y="1630" width="574" height="550" fill="#0b0e2e"/>
<rect x="1418" y="1630" width="574" height="190" fill="url(#gBlueTop)"/>
<rect x="1418" y="1800" width="574" height="50" fill="#0e1340" filter="url(#b8)"/>
<rect x="1975" y="1738" width="20" height="330" fill="#2234b0" opacity="0.8" filter="url(#b4)"/>
<rect x="1990" y="1630" width="581" height="750" fill="#05070c"/>
<rect x="2574" y="1630" width="580" height="750" fill="#0a0c22"/>
<rect x="2574" y="1630" width="580" height="190" fill="url(#gBlueTop)"/>
<rect x="2574" y="1738" width="32" height="500" fill="#2030a0" opacity="0.8" filter="url(#b4)"/>
<path d="M262,1745 L262,2200 Q290,2290 544,2300 Q790,2292 800,2195 L806,1740 Z" fill="url(#gBodyW)"/>
<path d="M262,2150 Q540,2176 802,2150 L799,2200 Q790,2290 544,2299 Q300,2292 285,2200 L262,2200 Z" fill="#6a7058" opacity="0.26" filter="url(#b4)"/>
<rect x="258" y="1950" width="34" height="250" fill="#5a6050" opacity="0.3" filter="url(#b8)"/>
<rect x="776" y="1950" width="30" height="250" fill="#5a6050" opacity="0.3" filter="url(#b8)"/>
<path d="M262,2184 Q540,2206 800,2184" fill="none" stroke="#f6f8ea" stroke-width="6.5" filter="url(#b1)"/>
<path d="M268,2206 Q540,2227 798,2206" fill="none" stroke="#eef0dc" stroke-width="5" filter="url(#b1)"/>
<path d="M286,2200 Q296,2288 544,2297 Q790,2288 799,2200" fill="none" stroke="#d0d4a8" stroke-width="6" opacity="0.9" filter="url(#b1)"/>
<path d="M330,2266 Q540,2292 760,2266" fill="none" stroke="#d8a850" stroke-width="3.5" opacity="0.7" filter="url(#b1)"/>
<path d="M314,1772 L356,2233 L374,2262 M750,1772 L718,2233 L703,2258" stroke="#a8dcc8" stroke-width="3.2" fill="none" opacity="0.9" filter="url(#b1)"/>
<path d="M340,2040 L349,2140 M731,2040 L724.5,2140" stroke="#c8f4dc" stroke-width="3.2" fill="none" filter="url(#b1)"/>
<path d="M412,1830 L418,1900 M445,1850 L468,1990 M650,1840 L642,1990 M664,1880 L666,1960" stroke="#8a9078" stroke-width="7" opacity="0.4" fill="none" filter="url(#b2)"/>
<path d="M402,2086 L430,2110 L470,2150 L480,2290 L432,2290 L420,2170 Z" fill="#2a3ae0" opacity="0.8" filter="url(#b2)"/>
<path d="M709,2056 L734,2048 L728,2120 L702,2120 Z" fill="#2a3ae0" opacity="0.85" filter="url(#b2)"/>
<path d="M770,2040 L778,2040 L776,2110 L770,2110 Z" fill="#3a48e0" opacity="0.7" filter="url(#b2)"/>
<path d="M262,1740 Q330,1756 400,1763 L392,1778 Q330,1778 262,1766 Z" fill="#e6eed6" filter="url(#b1)"/>
<path d="M812,1727 Q760,1752 690,1763 L700,1778 Q760,1774 812,1750 Z" fill="#e6eed6" filter="url(#b1)"/>
<path d="M392,1770 Q540,1784 700,1770" fill="none" stroke="#8c9aa0" stroke-width="5" opacity="0.75" filter="url(#b2)"/>
<path d="M300,1752 Q360,1764 400,1768" fill="none" stroke="#a8bcb0" stroke-width="4" opacity="0.6" filter="url(#b2)"/>
<path d="M262,1741 H812" stroke="#e8e8f0" stroke-width="3" opacity="0.8"/>
<path d="M470,1792 H640" stroke="#58e0a0" stroke-width="4" stroke-dasharray="6 12" opacity="0.75" filter="url(#b1)"/>
<path d="M448,1826 l10,5 l-10,5 z" fill="#3a48e0"/>
<path d="M428.6,2067.5 H364.0 V2093.5 H428.6 V2119.5 H364.0 M455.8,2067.5 V2119.5 M520.4,2067.5 L462.3,2093.5 L520.4,2119.5 M547.6,2067.5 V2119.5 M612.2,2067.5 L554.1,2093.5 L612.2,2119.5 M639.4,2067.5 V2111.7 Q639.4,2119.5 647.2,2119.5 H696.2 Q704.0,2119.5 704.0,2111.7 V2067.5" fill="none" stroke="#06080c" stroke-width="10.6" stroke-linejoin="round" stroke-linecap="round" opacity="0.80" filter="url(#b2)"/>
<path d="M428.6,2067.5 H364.0 V2093.5 H428.6 V2119.5 H364.0 M455.8,2067.5 V2119.5 M520.4,2067.5 L462.3,2093.5 L520.4,2119.5 M547.6,2067.5 V2119.5 M612.2,2067.5 L554.1,2093.5 L612.2,2119.5 M639.4,2067.5 V2111.7 Q639.4,2119.5 647.2,2119.5 H696.2 Q704.0,2119.5 704.0,2111.7 V2067.5" fill="none" stroke="#52d898" stroke-width="4.6" stroke-linejoin="round" stroke-linecap="round" opacity="1.00" filter="url(#b1)"/>
<path d="M581.5,2018.0 H603.0 V2007.0 H581.5 V1996.0 H603.0 M572.5,2018.0 V1996.0 M551.0,2018.0 L570.3,2007.0 L551.0,1996.0 M542.0,2018.0 V1996.0 M520.5,2018.0 L539.8,2007.0 L520.5,1996.0 M511.5,2018.0 V1998.6 Q511.5,1996.0 508.9,1996.0 H492.6 Q490.0,1996.0 490.0,1998.6 V2018.0" fill="none" stroke="#06080c" stroke-width="8.5" stroke-linejoin="round" stroke-linecap="round" opacity="0.14" filter="url(#b2)"/>
<path d="M581.5,2018.0 H603.0 V2007.0 H581.5 V1996.0 H603.0 M572.5,2018.0 V1996.0 M551.0,2018.0 L570.3,2007.0 L551.0,1996.0 M542.0,2018.0 V1996.0 M520.5,2018.0 L539.8,2007.0 L520.5,1996.0 M511.5,2018.0 V1998.6 Q511.5,1996.0 508.9,1996.0 H492.6 Q490.0,1996.0 490.0,1998.6 V2018.0" fill="none" stroke="#587068" stroke-width="2.5" stroke-linejoin="round" stroke-linecap="round" opacity="0.18" filter="url(#b1)"/>
<path d="M880,1738 L885,2190 Q893,2272 1118,2290 Q1340,2274 1354,2190 L1400,1738 Z" fill="url(#gBody)"/>
<path d="M880.7,1741.0 C896.2,1837.7 976.8,1865.0 1132.0,1865.0 C1287.2,1865.0 1382.5,1846.7 1398.0,1782.0 L1400,1738 L880,1738 Z" fill="url(#gInE)"/>
<ellipse cx="1140" cy="1834" rx="180" ry="22" fill="#2a42d8" opacity="0.55" filter="url(#b8)"/>
<path d="M996,1738 V1790 Q1140,1770 1296,1790 V1738" fill="#1c2468" opacity="0.7" filter="url(#b2)"/>
<path d="M996,1790 Q1140,1772 1296,1792" fill="none" stroke="#0c1030" stroke-width="9" opacity="0.7" filter="url(#b2)"/>
<path d="M996,1738 V1800 M1296,1738 V1800" stroke="#c8ccf8" stroke-width="3" opacity="0.7" filter="url(#b1)"/>
<g transform="rotate(-15 933.0 1776.0)">
<ellipse cx="933.0" cy="1776.0" rx="30.0" ry="25.0" fill="#e6ecff" opacity="0.85" filter="url(#b4)"/>
<path d="M907.4,1763.5 L917.4,1789.8" stroke="#5660a8" stroke-width="3.5" opacity="0.35" filter="url(#b2)"/>
<path d="M918.2,1763.5 L928.2,1789.8" stroke="#5660a8" stroke-width="3.5" opacity="0.35" filter="url(#b2)"/>
<path d="M929.0,1763.5 L939.0,1789.8" stroke="#5660a8" stroke-width="3.5" opacity="0.35" filter="url(#b2)"/>
<path d="M939.8,1763.5 L949.8,1789.8" stroke="#5660a8" stroke-width="3.5" opacity="0.35" filter="url(#b2)"/>
<path d="M950.6,1763.5 L960.6,1789.8" stroke="#5660a8" stroke-width="3.5" opacity="0.35" filter="url(#b2)"/>
</g>
<g transform="rotate(15 1338.0 1795.0)">
<ellipse cx="1338.0" cy="1795.0" rx="32.0" ry="28.0" fill="#e6ecff" opacity="0.85" filter="url(#b4)"/>
<path d="M1311.0,1781.0 L1321.0,1810.4" stroke="#5660a8" stroke-width="3.5" opacity="0.35" filter="url(#b2)"/>
<path d="M1322.5,1781.0 L1332.5,1810.4" stroke="#5660a8" stroke-width="3.5" opacity="0.35" filter="url(#b2)"/>
<path d="M1334.0,1781.0 L1344.0,1810.4" stroke="#5660a8" stroke-width="3.5" opacity="0.35" filter="url(#b2)"/>
<path d="M1345.5,1781.0 L1355.5,1810.4" stroke="#5660a8" stroke-width="3.5" opacity="0.35" filter="url(#b2)"/>
<path d="M1357.0,1781.0 L1367.0,1810.4" stroke="#5660a8" stroke-width="3.5" opacity="0.35" filter="url(#b2)"/>
</g>
<path d="M890,1870 L948,1870 L946,2170 L893,2170 Z" fill="#262e78" opacity="0.6" filter="url(#b4)"/>
<path d="M1335,1870 L1388,1870 L1350,2170 L1306,2170 Z" fill="#262e78" opacity="0.6" filter="url(#b4)"/>
<path d="M885,2150 Q1118,2186 1354,2168 L1354,2190 Q1340,2274 1118,2290 Q893,2272 885,2190 Z" fill="#2c3480" opacity="0.38" filter="url(#b4)"/>
<path d="M886,2230 Q1100,2262 1320,2236 M900,2252 Q1100,2280 1290,2258 M1010,2140 Q1180,2160 1350,2150" fill="none" stroke="#3444c8" stroke-width="4" opacity="0.75" filter="url(#b2)"/>
<path d="M882,2162 Q1118,2200 1353,2182" fill="none" stroke="#d4d0fa" stroke-width="5.5" filter="url(#b1)"/>
<path d="M885,2189 Q1118,2224 1352,2204" fill="none" stroke="#b8b4f0" stroke-width="4.5" filter="url(#b1)"/>
<path d="M885,2214 Q900,2274 1118,2290 Q1320,2280 1347,2240" fill="none" stroke="#c4c0f0" stroke-width="5" opacity="0.9" filter="url(#b1)"/>
<path d="M951,1862 L958,2262 M1357,1850 L1308,2262" stroke="#8890d8" stroke-width="3" opacity="0.7" filter="url(#b1)"/>
<path d="M1000,2118 L1026,2112 L1040,2180 L1046,2284 L1014,2282 Z" fill="#2a3ae0" opacity="0.8" filter="url(#b2)"/>
<path d="M1272,2082 L1300,2040 L1298,2122 L1276,2124 Z" fill="#2a3ae0" opacity="0.85" filter="url(#b2)"/>
<path d="M880.7,1741.0 C896.2,1837.7 976.8,1865.0 1132.0,1865.0 C1287.2,1865.0 1382.5,1846.7 1398.0,1782.0" fill="none" stroke="#a8b4f4" stroke-width="4.5" filter="url(#b1)"/>
<path d="M880.7,1741.0 C891.0,1803.0 916.9,1840.2 968.6,1856.3" fill="none" stroke="#f0f2ff" stroke-width="5" filter="url(#b1)"/>
<path d="M1398.0,1782.0 C1387.7,1823.5 1361.8,1848.4 1310.1,1859.2" fill="none" stroke="#f0f2ff" stroke-width="5" filter="url(#b1)"/>
<path d="M1060,1866 H1220" stroke="#60d8f0" stroke-width="4" stroke-dasharray="5 30" opacity="0.8"/>
<path d="M880,1738 L885,2190 M1400,1738 L1354,2190" stroke="#4a54a8" stroke-width="3" opacity="0.6"/>
<path d="M1042.8,2071.0 H983.0 V2097.0 H1042.8 V2123.0 H983.0 M1068.0,2071.0 V2123.0 M1127.9,2071.0 L1074.0,2097.0 L1127.9,2123.0 M1153.1,2071.0 V2123.0 M1212.9,2071.0 L1159.1,2097.0 L1212.9,2123.0 M1238.2,2071.0 V2115.8 Q1238.2,2123.0 1245.3,2123.0 H1290.8 Q1298.0,2123.0 1298.0,2115.8 V2071.0" fill="none" stroke="#06080c" stroke-width="10.6" stroke-linejoin="round" stroke-linecap="round" opacity="0.80" filter="url(#b2)"/>
<path d="M1042.8,2071.0 H983.0 V2097.0 H1042.8 V2123.0 H983.0 M1068.0,2071.0 V2123.0 M1127.9,2071.0 L1074.0,2097.0 L1127.9,2123.0 M1153.1,2071.0 V2123.0 M1212.9,2071.0 L1159.1,2097.0 L1212.9,2123.0 M1238.2,2071.0 V2115.8 Q1238.2,2123.0 1245.3,2123.0 H1290.8 Q1298.0,2123.0 1298.0,2115.8 V2071.0" fill="none" stroke="#52d898" stroke-width="4.6" stroke-linejoin="round" stroke-linecap="round" opacity="1.00" filter="url(#b1)"/>
<path d="M1171.3,2026.0 H1196.0 V2014.0 H1171.3 V2002.0 H1196.0 M1160.9,2026.0 V2002.0 M1136.2,2026.0 L1158.4,2014.0 L1136.2,2002.0 M1125.8,2026.0 V2002.0 M1101.1,2026.0 L1123.3,2014.0 L1101.1,2002.0 M1090.7,2026.0 V2005.0 Q1090.7,2002.0 1087.7,2002.0 H1069.0 Q1066.0,2002.0 1066.0,2005.0 V2026.0" fill="none" stroke="#06080c" stroke-width="8.5" stroke-linejoin="round" stroke-linecap="round" opacity="0.18" filter="url(#b2)"/>
<path d="M1171.3,2026.0 H1196.0 V2014.0 H1171.3 V2002.0 H1196.0 M1160.9,2026.0 V2002.0 M1136.2,2026.0 L1158.4,2014.0 L1136.2,2002.0 M1125.8,2026.0 V2002.0 M1101.1,2026.0 L1123.3,2014.0 L1101.1,2002.0 M1090.7,2026.0 V2005.0 Q1090.7,2002.0 1087.7,2002.0 H1069.0 Q1066.0,2002.0 1066.0,2005.0 V2026.0" fill="none" stroke="#58688c" stroke-width="2.5" stroke-linejoin="round" stroke-linecap="round" opacity="0.22" filter="url(#b1)"/>
<path d="M1443,1822 L1458,2150 Q1468,2268 1700,2276 Q1932,2268 1941,2150 L1972,1848 Z" fill="url(#gBody)"/>
<path d="M1443.0,1822.0 C1458.9,1904.7 1545.3,1928.0 1704.0,1928.0 C1862.7,1928.0 1956.1,1910.4 1972.0,1848.0 C1972,1792 1850,1760 1706,1758 C1560,1758 1443,1778 1443,1822 Z" fill="url(#gInI)"/>
<ellipse cx="1705" cy="1850" rx="180" ry="38" fill="#3a4cb8" opacity="0.7" filter="url(#b8)"/>
<g transform="rotate(-20 1503.0 1836.0)">
<ellipse cx="1503.0" cy="1836.0" rx="40.0" ry="36.0" fill="#e6ecff" opacity="0.85" filter="url(#b4)"/>
<path d="M1470.2,1818.0 L1480.2,1855.8" stroke="#5660a8" stroke-width="3.5" opacity="0.35" filter="url(#b2)"/>
<path d="M1484.6,1818.0 L1494.6,1855.8" stroke="#5660a8" stroke-width="3.5" opacity="0.35" filter="url(#b2)"/>
<path d="M1499.0,1818.0 L1509.0,1855.8" stroke="#5660a8" stroke-width="3.5" opacity="0.35" filter="url(#b2)"/>
<path d="M1513.4,1818.0 L1523.4,1855.8" stroke="#5660a8" stroke-width="3.5" opacity="0.35" filter="url(#b2)"/>
<path d="M1527.8,1818.0 L1537.8,1855.8" stroke="#5660a8" stroke-width="3.5" opacity="0.35" filter="url(#b2)"/>
</g>
<g transform="rotate(20 1912.0 1846.0)">
<ellipse cx="1912.0" cy="1846.0" rx="40.0" ry="36.0" fill="#e6ecff" opacity="0.85" filter="url(#b4)"/>
<path d="M1879.2,1828.0 L1889.2,1865.8" stroke="#5660a8" stroke-width="3.5" opacity="0.35" filter="url(#b2)"/>
<path d="M1893.6,1828.0 L1903.6,1865.8" stroke="#5660a8" stroke-width="3.5" opacity="0.35" filter="url(#b2)"/>
<path d="M1908.0,1828.0 L1918.0,1865.8" stroke="#5660a8" stroke-width="3.5" opacity="0.35" filter="url(#b2)"/>
<path d="M1922.4,1828.0 L1932.4,1865.8" stroke="#5660a8" stroke-width="3.5" opacity="0.35" filter="url(#b2)"/>
<path d="M1936.8,1828.0 L1946.8,1865.8" stroke="#5660a8" stroke-width="3.5" opacity="0.35" filter="url(#b2)"/>
</g>
<path d="M1559,1630 V1838 M1871,1630 V1850" stroke="#ececff" stroke-width="3.5" filter="url(#b1)"/>
<path d="M1458,2128 Q1700,2156 1941,2128 L1941,2150 Q1932,2268 1700,2276 Q1468,2268 1458,2150 Z" fill="#343e98" opacity="0.42" filter="url(#b4)"/>
<path d="M1458,2138 Q1700,2168 1941,2138" fill="none" stroke="#d0ccf8" stroke-width="6" filter="url(#b1)"/>
<path d="M1460,2158 Q1700,2188 1940,2158" fill="none" stroke="#b8b4f0" stroke-width="4.5" filter="url(#b1)"/>
<path d="M1464,2184 Q1700,2212 1936,2184" fill="none" stroke="#c8c4f4" stroke-width="4" filter="url(#b1)"/>
<path d="M1462,2190 Q1474,2266 1700,2274 Q1926,2266 1938,2190" fill="none" stroke="#a8a4e0" stroke-width="4.5" opacity="0.8" filter="url(#b1)"/>
<path d="M1528,1930 L1540,2250 M1900,1920 L1880,2250" stroke="#7880c8" stroke-width="3" opacity="0.6" filter="url(#b1)"/>
<path d="M1443.0,1822.0 C1458.9,1904.7 1545.3,1928.0 1704.0,1928.0 C1862.7,1928.0 1956.1,1910.4 1972.0,1848.0" fill="none" stroke="#a8b4f0" stroke-width="4.5" filter="url(#b1)"/>
<path d="M1443.0,1822.0 C1453.6,1875.0 1480.0,1906.8 1532.9,1920.6" fill="none" stroke="#f0f2ff" stroke-width="5" filter="url(#b1)"/>
<path d="M1972.0,1848.0 C1961.4,1888.0 1935.0,1912.0 1882.1,1922.4" fill="none" stroke="#f0f2ff" stroke-width="5" filter="url(#b1)"/>
<path d="M1443,1825 L1458,2150 M1972,1852 L1941,2150" stroke="#4a54a8" stroke-width="3" opacity="0.7"/>
<path d="M1603.4,2047.5 H1540.0 V2074.8 H1603.4 V2102.0 H1540.0 M1630.0,2047.5 V2102.0 M1693.4,2047.5 L1636.4,2074.8 L1693.4,2102.0 M1720.1,2047.5 V2102.0 M1783.5,2047.5 L1726.4,2074.8 L1783.5,2102.0 M1810.1,2047.5 V2094.4 Q1810.1,2102.0 1817.7,2102.0 H1865.9 Q1873.5,2102.0 1873.5,2094.4 V2047.5" fill="none" stroke="#06080c" stroke-width="10.6" stroke-linejoin="round" stroke-linecap="round" opacity="0.80" filter="url(#b2)"/>
<path d="M1603.4,2047.5 H1540.0 V2074.8 H1603.4 V2102.0 H1540.0 M1630.0,2047.5 V2102.0 M1693.4,2047.5 L1636.4,2074.8 L1693.4,2102.0 M1720.1,2047.5 V2102.0 M1783.5,2047.5 L1726.4,2074.8 L1783.5,2102.0 M1810.1,2047.5 V2094.4 Q1810.1,2102.0 1817.7,2102.0 H1865.9 Q1873.5,2102.0 1873.5,2094.4 V2047.5" fill="none" stroke="#52d898" stroke-width="4.6" stroke-linejoin="round" stroke-linecap="round" opacity="1.00" filter="url(#b1)"/>
<path d="M2007,1738 L2026,2200 Q2036,2292 2284,2300 Q2532,2292 2541,2200 L2562,1738 Z" fill="url(#gBodyD)"/>
<path d="M2007.6,1745.0 C2024.2,1851.9 2118.7,1882.0 2285.0,1882.0 C2451.3,1882.0 2545.4,1850.8 2562.0,1740.0 L2562,1738 L2007,1738 Z" fill="url(#gInD)"/>
<ellipse cx="2280" cy="1800" rx="190" ry="50" fill="#0a0d20" opacity="0.8" filter="url(#b8)"/>
<ellipse cx="2300" cy="1850" rx="170" ry="18" fill="#262e58" opacity="0.7" filter="url(#b8)"/>
<g transform="rotate(-20 2062.0 1772.0)">
<ellipse cx="2062.0" cy="1772.0" rx="26.0" ry="44.0" fill="#eceef4" opacity="0.90" filter="url(#b4)"/>
<path d="M2039.3,1750.0 L2049.3,1796.2" stroke="#5660a8" stroke-width="3.5" opacity="0.35" filter="url(#b2)"/>
<path d="M2048.6,1750.0 L2058.6,1796.2" stroke="#5660a8" stroke-width="3.5" opacity="0.35" filter="url(#b2)"/>
<path d="M2058.0,1750.0 L2068.0,1796.2" stroke="#5660a8" stroke-width="3.5" opacity="0.35" filter="url(#b2)"/>
<path d="M2067.4,1750.0 L2077.4,1796.2" stroke="#5660a8" stroke-width="3.5" opacity="0.35" filter="url(#b2)"/>
<path d="M2076.7,1750.0 L2086.7,1796.2" stroke="#5660a8" stroke-width="3.5" opacity="0.35" filter="url(#b2)"/>
</g>
<g transform="rotate(15 2503.0 1803.0)">
<ellipse cx="2503.0" cy="1803.0" rx="33.0" ry="52.0" fill="#eceef4" opacity="0.90" filter="url(#b4)"/>
<path d="M2475.2,1777.0 L2485.2,1831.6" stroke="#5660a8" stroke-width="3.5" opacity="0.35" filter="url(#b2)"/>
<path d="M2487.1,1777.0 L2497.1,1831.6" stroke="#5660a8" stroke-width="3.5" opacity="0.35" filter="url(#b2)"/>
<path d="M2499.0,1777.0 L2509.0,1831.6" stroke="#5660a8" stroke-width="3.5" opacity="0.35" filter="url(#b2)"/>
<path d="M2510.9,1777.0 L2520.9,1831.6" stroke="#5660a8" stroke-width="3.5" opacity="0.35" filter="url(#b2)"/>
<path d="M2522.8,1777.0 L2532.8,1831.6" stroke="#5660a8" stroke-width="3.5" opacity="0.35" filter="url(#b2)"/>
</g>
<path d="M2026,2178 Q2284,2204 2541,2178 L2541,2200 Q2532,2292 2284,2300 Q2036,2292 2026,2200 Z" fill="#2a2e48" opacity="0.42" filter="url(#b4)"/>
<path d="M2027,2188 Q2284,2212 2540,2188" fill="none" stroke="#ece8fa" stroke-width="6" filter="url(#b1)"/>
<path d="M2029,2211 Q2284,2235 2539,2211" fill="none" stroke="#dcd8f2" stroke-width="5.5" filter="url(#b1)"/>
<path d="M2030,2222 Q2040,2290 2284,2298 Q2528,2290 2538,2222" fill="none" stroke="#c8c4e0" stroke-width="4.5" opacity="0.8" filter="url(#b1)"/>
<path d="M2090,1880 L2100,2270 M2480,1870 L2468,2270" stroke="#8088b0" stroke-width="2.5" opacity="0.5" filter="url(#b1)"/>
<path d="M2007.6,1745.0 C2024.2,1851.9 2118.7,1882.0 2285.0,1882.0 C2451.3,1882.0 2545.4,1850.8 2562.0,1740.0" fill="none" stroke="#b0b4d0" stroke-width="5" filter="url(#b1)"/>
<path d="M2007.6,1745.0 C2018.7,1813.5 2046.4,1854.6 2101.8,1872.4" fill="none" stroke="#f4f4fc" stroke-width="6.5" filter="url(#b1)"/>
<path d="M2562.0,1740.0 C2550.9,1811.0 2523.2,1853.6 2467.8,1872.1" fill="none" stroke="#dcdcf0" stroke-width="5" filter="url(#b1)"/>
<path d="M2007,1738 L2026,2200 M2562,1738 L2541,2200" stroke="#4a5080" stroke-width="3" opacity="0.6"/>
<path d="M2176.5,2066.5 H2109.5 V2093.8 H2176.5 V2121.0 H2109.5 M2204.7,2066.5 V2121.0 M2271.7,2066.5 L2211.4,2093.8 L2271.7,2121.0 M2299.8,2066.5 V2121.0 M2366.8,2066.5 L2306.5,2093.8 L2366.8,2121.0 M2395.0,2066.5 V2113.0 Q2395.0,2121.0 2403.1,2121.0 H2454.0 Q2462.0,2121.0 2462.0,2113.0 V2066.5" fill="none" stroke="#06080c" stroke-width="10.6" stroke-linejoin="round" stroke-linecap="round" opacity="0.80" filter="url(#b2)"/>
<path d="M2176.5,2066.5 H2109.5 V2093.8 H2176.5 V2121.0 H2109.5 M2204.7,2066.5 V2121.0 M2271.7,2066.5 L2211.4,2093.8 L2271.7,2121.0 M2299.8,2066.5 V2121.0 M2366.8,2066.5 L2306.5,2093.8 L2366.8,2121.0 M2395.0,2066.5 V2113.0 Q2395.0,2121.0 2403.1,2121.0 H2454.0 Q2462.0,2121.0 2462.0,2113.0 V2066.5" fill="none" stroke="#52d898" stroke-width="4.6" stroke-linejoin="round" stroke-linecap="round" opacity="1.00" filter="url(#b1)"/>
<path d="M2604,1738 L2613,2215 Q2625,2292 2873,2300 Q3120,2292 3130,2215 L3141,1738 Z" fill="url(#gBody)"/>
<path d="M2604.0,1838.0 C2620.1,1929.3 2710.9,1955.0 2872.0,1955.0 C3033.1,1955.0 3124.9,1930.6 3141.0,1844.0 L3141,1738 L2604,1738 Z" fill="url(#gInT)"/>
<ellipse cx="2872" cy="1880" rx="170" ry="48" fill="#262c6c" opacity="0.85" filter="url(#b8)"/>
<path d="M2715,1738 H3033 V1800 Q2873,1770 2715,1790 Z" fill="#2a40d0" opacity="0.55" filter="url(#b4)"/>
<g transform="rotate(-25 2672.0 1872.0)">
<ellipse cx="2672.0" cy="1872.0" rx="50.0" ry="46.0" fill="#f2f6ff" opacity="0.95" filter="url(#b4)"/>
<path d="M2632.0,1849.0 L2642.0,1897.3" stroke="#5660a8" stroke-width="3.5" opacity="0.35" filter="url(#b2)"/>
<path d="M2650.0,1849.0 L2660.0,1897.3" stroke="#5660a8" stroke-width="3.5" opacity="0.35" filter="url(#b2)"/>
<path d="M2668.0,1849.0 L2678.0,1897.3" stroke="#5660a8" stroke-width="3.5" opacity="0.35" filter="url(#b2)"/>
<path d="M2686.0,1849.0 L2696.0,1897.3" stroke="#5660a8" stroke-width="3.5" opacity="0.35" filter="url(#b2)"/>
<path d="M2704.0,1849.0 L2714.0,1897.3" stroke="#5660a8" stroke-width="3.5" opacity="0.35" filter="url(#b2)"/>
</g>
<g transform="rotate(25 3078.0 1857.0)">
<ellipse cx="3078.0" cy="1857.0" rx="46.0" ry="52.0" fill="#f2f6ff" opacity="0.95" filter="url(#b4)"/>
<path d="M3040.9,1831.0 L3050.9,1885.6" stroke="#5660a8" stroke-width="3.5" opacity="0.35" filter="url(#b2)"/>
<path d="M3057.4,1831.0 L3067.4,1885.6" stroke="#5660a8" stroke-width="3.5" opacity="0.35" filter="url(#b2)"/>
<path d="M3074.0,1831.0 L3084.0,1885.6" stroke="#5660a8" stroke-width="3.5" opacity="0.35" filter="url(#b2)"/>
<path d="M3090.6,1831.0 L3100.6,1885.6" stroke="#5660a8" stroke-width="3.5" opacity="0.35" filter="url(#b2)"/>
<path d="M3107.1,1831.0 L3117.1,1885.6" stroke="#5660a8" stroke-width="3.5" opacity="0.35" filter="url(#b2)"/>
</g>
<path d="M2726,1630 L2716,1880 M3030,1630 L3033,1870" stroke="#ececff" stroke-width="3.5" filter="url(#b1)"/>
<path d="M2606,1960 Q2873,2030 3138,1960 L3130,2215 L2613,2215 Z" fill="#0a0c22" opacity="0.5" filter="url(#b8)"/>
<path d="M2604.0,1838.0 C2620.1,1929.3 2710.9,1955.0 2872.0,1955.0 C3033.1,1955.0 3124.9,1930.6 3141.0,1844.0" fill="none" stroke="#a0a8e8" stroke-width="4.5" filter="url(#b1)"/>
<path d="M2604.0,1838.0 C2614.7,1896.5 2641.6,1931.6 2695.3,1946.8" fill="none" stroke="#f6f8ff" stroke-width="7" filter="url(#b1)"/>
<path d="M3141.0,1844.0 C3130.3,1899.5 3103.4,1932.8 3049.7,1947.2" fill="none" stroke="#f6f8ff" stroke-width="7" filter="url(#b1)"/>
<path d="M2790,1950 H2940" stroke="#58e0a0" stroke-width="4" stroke-dasharray="26 12" opacity="0.8" filter="url(#b1)"/>
<path d="M2604,1738 L2613,2215 M3141,1738 L3130,2215" stroke="#4a54a8" stroke-width="3" opacity="0.6"/>
<path d="M2617,2220 Q2873,2246 3128,2220 L3126,2254 Q2873,2262 2619,2254 Z" fill="url(#gRain)" filter="url(#b2)"/>
<path d="M2617,2220 Q2873,2246 3128,2220 L3126,2254 Q2873,2262 2619,2254 Z" fill="url(#gRainH)" filter="url(#b2)"/>
<path d="M2680,2262 Q2873,2246 3066,2262 Q2873,2296 2680,2262 Z" fill="#0a0e20" opacity="0.9" filter="url(#b2)"/>
<path d="M2640,2258 Q2700,2280 2800,2284 M3106,2258 Q3046,2280 2946,2284" fill="none" stroke="#2a50d8" stroke-width="7" opacity="0.8" filter="url(#b2)"/>
<path d="M2619,2254 Q2873,2316 3126,2254" fill="none" stroke="#f6f2ff" stroke-width="5" filter="url(#b1)"/>
<path d="M2613,2180 L2617,2226 M3130,2180 L3128,2226" stroke="#c8d0ff" stroke-width="5" filter="url(#b1)"/>
<path d="M2760.2,2070.0 H2692.0 V2097.0 H2760.2 V2124.0 H2692.0 M2788.9,2070.0 V2124.0 M2857.1,2070.0 L2795.8,2097.0 L2857.1,2124.0 M2885.9,2070.0 V2124.0 M2954.1,2070.0 L2892.7,2097.0 L2954.1,2124.0 M2982.8,2070.0 V2115.8 Q2982.8,2124.0 2991.0,2124.0 H3042.8 Q3051.0,2124.0 3051.0,2115.8 V2070.0" fill="none" stroke="#06080c" stroke-width="10.6" stroke-linejoin="round" stroke-linecap="round" opacity="0.80" filter="url(#b2)"/>
<path d="M2760.2,2070.0 H2692.0 V2097.0 H2760.2 V2124.0 H2692.0 M2788.9,2070.0 V2124.0 M2857.1,2070.0 L2795.8,2097.0 L2857.1,2124.0 M2885.9,2070.0 V2124.0 M2954.1,2070.0 L2892.7,2097.0 L2954.1,2124.0 M2982.8,2070.0 V2115.8 Q2982.8,2124.0 2991.0,2124.0 H3042.8 Q3051.0,2124.0 3051.0,2115.8 V2070.0" fill="none" stroke="#52d898" stroke-width="4.6" stroke-linejoin="round" stroke-linecap="round" opacity="1.00" filter="url(#b1)"/>
<rect x="262" y="1630" width="433" height="108" fill="#cbc7ea"/>
<rect x="695" y="1630" width="116" height="108" fill="#c7c7c9"/>
<rect x="811" y="1630" width="185" height="108" fill="#c6c3e2"/>
<rect x="996" y="1630" width="300" height="108" fill="#cbc7ea"/>
<rect x="1296" y="1630" width="125" height="108" fill="#c7c7c9"/>
<rect x="1421" y="1630" width="574" height="108" fill="#c9c5ea"/>
<rect x="1995" y="1630" width="447" height="108" fill="#cac8e2"/>
<rect x="2442" y="1630" width="119" height="108" fill="#c8c8ce"/>
<rect x="2561" y="1630" width="585" height="108" fill="#cbc6ec"/>
<path d="M365,1630 V1738 M695.5,1630 V1738 M996,1630 V1738 M1296,1630 V1738 M1560,1630 V1738 M1871.5,1630 V1738 M2726,1630 V1738 M3030,1630 V1738 M2442.5,1630 V1738 M2561,1630 V1738" stroke="#f2eeff" stroke-width="3" opacity="0.85" filter="url(#b1)"/>
<path d="M1990,1630 Q1994,1700 2008,1738" stroke="#eeeaf8" stroke-width="3" opacity="0.8" fill="none" filter="url(#b1)"/>
<path d="M262,1712 Q330,1722 420,1726 M660,1726 Q750,1722 812,1706" fill="none" stroke="#dcdcd8" stroke-width="10" opacity="0.5" filter="url(#b2)"/>
<rect x="262" y="1734" width="2884" height="4.5" fill="#eeecf8" opacity="0.7"/>
</g>
<text x="460.0" y="1708" textLength="186.0" lengthAdjust="spacingAndGlyphs" style="font-family:'Liberation Sans',sans-serif;font-weight:bold;font-style:italic;font-size:58px;stroke-linejoin:round;fill:#f4f2fa;stroke:#f4f2fa;stroke-width:9px" filter="url(#b2)">Water</text>
<text x="460.0" y="1708" textLength="186.0" lengthAdjust="spacingAndGlyphs" style="font-family:'Liberation Sans',sans-serif;font-weight:bold;font-style:italic;font-size:58px;stroke-linejoin:round;fill:#0a0a0e;stroke:#0a0a0e;stroke-width:2.2px" filter="url(#b1)">Water</text>
<text x="1014.0" y="1708" textLength="232.0" lengthAdjust="spacingAndGlyphs" style="font-family:'Liberation Sans',sans-serif;font-weight:bold;font-style:italic;font-size:58px;stroke-linejoin:round;fill:#f4f2fa;stroke:#f4f2fa;stroke-width:9px" filter="url(#b2)">Ethanol</text>
<text x="1014.0" y="1708" textLength="232.0" lengthAdjust="spacingAndGlyphs" style="font-family:'Liberation Sans',sans-serif;font-weight:bold;font-style:italic;font-size:58px;stroke-linejoin:round;fill:#0a0a0e;stroke:#0a0a0e;stroke-width:2.2px" filter="url(#b1)">Ethanol</text>
<text x="1655.5" y="1708" textLength="101.0" lengthAdjust="spacingAndGlyphs" style="font-family:'Liberation Sans',sans-serif;font-weight:bold;font-style:italic;font-size:58px;stroke-linejoin:round;fill:#f4f2fa;stroke:#f4f2fa;stroke-width:9px" filter="url(#b2)">IPA</text>
<text x="1655.5" y="1708" textLength="101.0" lengthAdjust="spacingAndGlyphs" style="font-family:'Liberation Sans',sans-serif;font-weight:bold;font-style:italic;font-size:58px;stroke-linejoin:round;fill:#0a0a0e;stroke:#0a0a0e;stroke-width:2.2px" filter="url(#b1)">IPA</text>
<text x="2162.0" y="1708" textLength="244.0" lengthAdjust="spacingAndGlyphs" style="font-family:'Liberation Sans',sans-serif;font-weight:bold;font-style:italic;font-size:58px;stroke-linejoin:round;fill:#f4f2fa;stroke:#f4f2fa;stroke-width:9px" filter="url(#b2)">Acetone</text>
<text x="2162.0" y="1708" textLength="244.0" lengthAdjust="spacingAndGlyphs" style="font-family:'Liberation Sans',sans-serif;font-weight:bold;font-style:italic;font-size:58px;stroke-linejoin:round;fill:#0a0a0e;stroke:#0a0a0e;stroke-width:2.2px" filter="url(#b1)">Acetone</text>
<text x="2753.0" y="1708" textLength="226.0" lengthAdjust="spacingAndGlyphs" style="font-family:'Liberation Sans',sans-serif;font-weight:bold;font-style:italic;font-size:58px;stroke-linejoin:round;fill:#f4f2fa;stroke:#f4f2fa;stroke-width:9px" filter="url(#b2)">Toluene</text>
<text x="2753.0" y="1708" textLength="226.0" lengthAdjust="spacingAndGlyphs" style="font-family:'Liberation Sans',sans-serif;font-weight:bold;font-style:italic;font-size:58px;stroke-linejoin:round;fill:#0a0a0e;stroke:#0a0a0e;stroke-width:2.2px" filter="url(#b1)">Toluene</text>
</svg>
</body></html>
